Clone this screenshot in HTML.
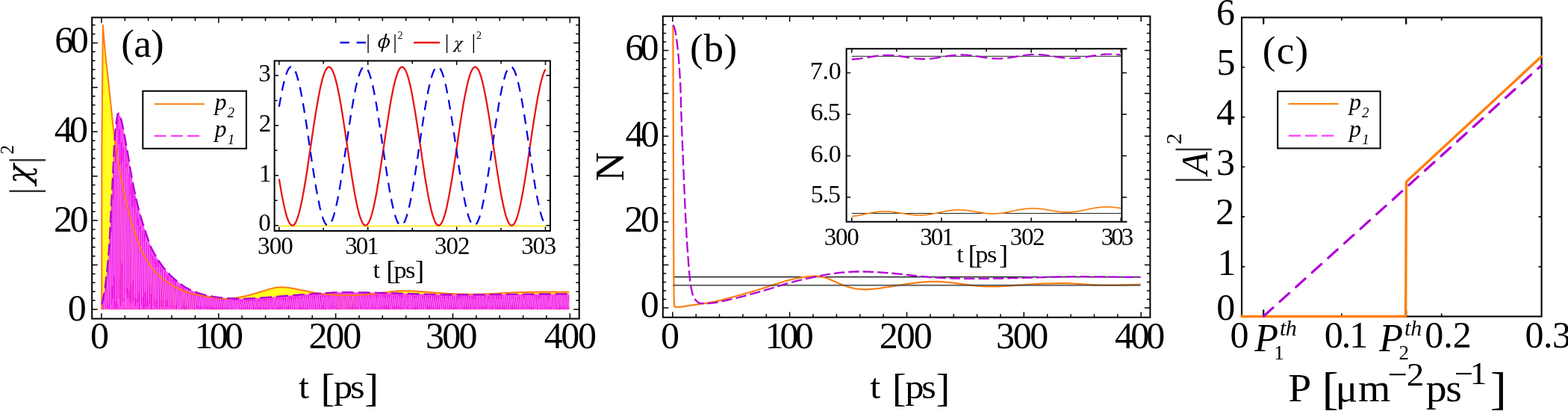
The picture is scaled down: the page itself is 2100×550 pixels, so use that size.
<!DOCTYPE html>
<html lang="en">
<head>
<meta charset="utf-8">
<title>Figure</title>
<style>
html,body{margin:0;padding:0;background:#fff;}
body{width:2100px;height:550px;overflow:hidden;}
svg{display:block;}
svg text{font-family:"Liberation Serif","DejaVu Serif",serif;fill:#000;white-space:pre;}
svg .m{font-family:"DejaVu Math TeX Gyre","Liberation Serif",serif;}
</style>
</head>
<body>
<svg width="2100" height="550" viewBox="0 0 2100 550">
<rect x="0" y="0" width="2100" height="550" fill="#fff"/>
<g id="panel-a">
<path d="M136.2,414.2L136.4,200L137.8,33.6L139.3,52.1L140.8,69L142.3,83.7L143.8,97.1L145.3,109.9L146.7,123.4L148.2,137.8L149.7,152.4L151.2,166.2L152.7,178.2L154.2,189.1L155.7,199.3L157.2,208.9L158.7,218L160.2,226.7L161.7,235L163.1,243L164.6,250.6L166.1,257.8L167.6,264.5L169.1,270.8L170.6,276.8L172.1,282.4L173.6,287.7L175.1,292.9L176.6,298L178.1,302.8L179.5,307.5L181,312.1L182.5,316.6L184,321.1L185.5,325.7L187,329.5L188.5,332.9L190,336L191.5,338.9L193,341.6L194.4,344.2L195.9,346.7L197.4,349.1L198.9,351.4L200.4,353.7L201.9,355.8L203.4,357.9L204.9,359.8L206.4,361.6L207.9,363.3L209.4,364.9L210.8,366.4L212.3,367.9L213.8,369.2L215.3,370.5L216.8,371.8L218.3,373L219.8,374.2L221.3,375.4L222.8,376.5L224.3,377.6L225.7,378.7L227.2,379.7L228.7,380.6L230.2,381.5L231.7,382.4L233.2,383.2L234.7,384.1L236.2,384.9L237.7,385.6L239.2,386.4L240.7,387L242.1,387.7L243.6,388.3L245.1,388.9L246.6,389.5L248.1,390L249.6,390.5L251.1,391L252.6,391.5L254.1,392L255.6,392.4L257,392.8L258.5,393.2L260,393.6L261.5,394L263,394.3L264.5,394.7L266,395L267.5,395.3L269,395.6L270.5,395.8L272,396.1L273.4,396.3L274.9,396.5L276.4,396.7L277.9,396.9L279.4,397.1L280.9,397.3L282.4,397.5L283.9,397.7L285.4,397.9L286.9,398.2L288.3,398.4L289.8,398.7L291.3,399L292.8,399.2L294.3,399.4L295.8,399.5L297.3,399.7L298.8,399.7L300.3,399.7L301.8,399.7L303.3,399.7L304.7,399.7L306.2,399.6L307.7,399.5L309.2,399.4L310.7,399.3L312.2,399.1L313.7,399L315.2,398.7L316.7,398.5L318.2,398.3L319.7,398L321.1,397.7L322.6,397.4L324.1,397.1L325.6,396.8L327.1,396.5L328.6,396.2L330.1,395.8L331.6,395.5L333.1,395.1L334.6,394.7L336,394.3L337.5,393.9L339,393.5L340.5,393L342,392.6L343.5,392.2L345,391.7L346.5,391.3L348,390.8L349.5,390.4L351,389.9L352.4,389.5L353.9,389L355.4,388.5L356.9,388.1L358.4,387.6L359.9,387.2L361.4,386.8L362.9,386.4L364.4,386L365.9,385.6L367.3,385.3L368.8,385L370.3,384.8L371.8,384.6L373.3,384.5L374.8,384.4L376.3,384.4L377.8,384.4L379.3,384.4L380.8,384.5L382.3,384.6L383.7,384.7L385.2,384.9L386.7,385L388.2,385.2L389.7,385.5L391.2,385.7L392.7,386L394.2,386.3L395.7,386.6L397.2,386.9L398.6,387.2L400.1,387.5L401.6,387.8L403.1,388.1L404.6,388.4L406.1,388.7L407.6,389L409.1,389.3L410.6,389.6L412.1,389.9L413.6,390.2L415,390.5L416.5,390.8L418,391L419.5,391.3L421,391.6L422.5,391.9L424,392.1L425.5,392.3L427,392.6L428.5,392.8L429.9,393L431.4,393.2L432.9,393.3L434.4,393.5L435.9,393.7L437.4,393.8L438.9,393.9L440.4,394.1L441.9,394.2L443.4,394.3L444.9,394.4L446.3,394.5L447.8,394.6L449.3,394.7L450.8,394.8L452.3,394.9L453.8,395L455.3,395L456.8,395.1L458.3,395.2L459.8,395.2L461.3,395.3L462.7,395.3L464.2,395.3L465.7,395.3L467.2,395.3L468.7,395.3L470.2,395.3L471.7,395.2L473.2,395.2L474.7,395.1L476.2,395.1L477.6,395L479.1,394.9L480.6,394.8L482.1,394.8L483.6,394.7L485.1,394.6L486.6,394.5L488.1,394.4L489.6,394.3L491.1,394.2L492.6,394.1L494,393.9L495.5,393.8L497,393.7L498.5,393.5L500,393.4L501.5,393.2L503,393.1L504.5,392.9L506,392.7L507.5,392.5L508.9,392.4L510.4,392.2L511.9,392L513.4,391.8L514.9,391.6L516.4,391.4L517.9,391.2L519.4,391L520.9,390.8L522.4,390.5L523.9,390.3L525.3,390.1L526.8,389.9L528.3,389.8L529.8,389.6L531.3,389.5L532.8,389.4L534.3,389.3L535.8,389.2L537.3,389.2L538.8,389.2L540.2,389.2L541.7,389.2L543.2,389.2L544.7,389.2L546.2,389.2L547.7,389.3L549.2,389.3L550.7,389.4L552.2,389.4L553.7,389.5L555.2,389.6L556.6,389.7L558.1,389.8L559.6,389.9L561.1,390L562.6,390.1L564.1,390.2L565.6,390.3L567.1,390.4L568.6,390.5L570.1,390.6L571.5,390.7L573,390.8L574.5,390.9L576,391L577.5,391.2L579,391.3L580.5,391.4L582,391.5L583.5,391.7L585,391.8L586.5,391.9L587.9,392L589.4,392.1L590.9,392.2L592.4,392.3L593.9,392.4L595.4,392.5L596.9,392.6L598.4,392.7L599.9,392.8L601.4,392.8L602.9,392.9L604.3,393L605.8,393.1L607.3,393.1L608.8,393.2L610.3,393.3L611.8,393.3L613.3,393.4L614.8,393.4L616.3,393.5L617.8,393.6L619.2,393.6L620.7,393.6L622.2,393.7L623.7,393.7L625.2,393.7L626.7,393.8L628.2,393.8L629.7,393.8L631.2,393.8L632.7,393.8L634.2,393.8L635.6,393.8L637.1,393.7L638.6,393.7L640.1,393.7L641.6,393.6L643.1,393.6L644.6,393.6L646.1,393.5L647.6,393.4L649.1,393.4L650.5,393.3L652,393.3L653.5,393.2L655,393.1L656.5,393.1L658,393L659.5,393L661,392.9L662.5,392.8L664,392.7L665.5,392.7L666.9,392.6L668.4,392.5L669.9,392.4L671.4,392.3L672.9,392.3L674.4,392.2L675.9,392.1L677.4,392L678.9,391.9L680.4,391.8L681.8,391.7L683.3,391.7L684.8,391.6L686.3,391.5L687.8,391.4L689.3,391.4L690.8,391.3L692.3,391.3L693.8,391.2L695.3,391.2L696.8,391.1L698.2,391.1L699.7,391L701.2,391L702.7,391L704.2,390.9L705.7,390.9L707.2,390.9L708.7,390.8L710.2,390.8L711.7,390.8L713.2,390.8L714.6,390.7L716.1,390.7L717.6,390.7L719.1,390.7L720.6,390.7L722.1,390.6L723.6,390.6L725.1,390.6L726.6,390.6L728.1,390.6L729.5,390.6L731,390.6L732.5,390.6L734,390.6L735.5,390.6L737,390.6L738.5,390.6L740,390.6L741.5,390.6L743,390.6L744.5,390.6L745.9,390.7L747.4,390.7L748.9,390.7L750.4,390.7L751.9,390.7L753.4,390.7L754.9,390.8L756.4,390.8L757.9,390.8L759.4,390.8L760.8,390.8L762.3,390.8L762.3,414.2L136.2,414.2Z" fill="#ffff20"/>
<path d="M136.4,414.2L136.4,407.3L137.7,401.8L138.9,395.3L140.2,387.7L141.4,378.9L142.7,368.7L143.9,356.5L145.2,343L146.4,326.3L147.7,301.4L148.9,276.5L150.2,252.5L151.5,226.7L152.7,200.9L154,181.9L155.2,167.7L156.5,158.5L157.7,152.3L159,151.9L160.2,154.1L161.5,157.1L162.7,161.4L164,167.3L165.3,173.6L166.5,179.9L167.8,186.7L169,193.7L170.3,200.6L171.5,207.7L172.8,215.1L174,223.1L175.3,230.5L176.5,237.5L177.8,244.1L179,250.5L180.3,256.5L181.6,262.3L182.8,267.9L184.1,273.2L185.3,278.3L186.6,283.1L187.8,287.6L189.1,291.8L190.3,295.9L191.6,299.9L192.8,303.8L194.1,307.8L195.4,311.6L196.6,315.4L197.9,319.1L199.1,322.6L200.4,326.1L201.6,329.3L202.9,332.1L204.1,334.6L205.4,337L206.6,339.3L207.9,341.4L209.2,343.5L210.4,345.6L211.7,347.6L212.9,349.5L214.2,351.4L215.4,353.2L216.7,355L217.9,356.7L219.2,358.3L220.4,359.8L221.7,361.3L223,362.8L224.2,364.2L225.5,365.6L226.7,366.9L228,368.1L229.2,369.4L230.5,370.6L231.7,371.7L233,372.8L234.2,373.9L235.5,375L236.8,376L238,377L239.3,378L240.5,379L241.8,379.9L243,380.8L244.3,381.7L245.5,382.6L246.8,383.4L248,384.2L249.3,384.9L250.5,385.6L251.8,386.2L253.1,386.9L254.3,387.5L255.6,388.1L256.8,388.7L258.1,389.2L259.3,389.8L260.6,390.3L261.8,390.8L263.1,391.2L264.3,391.7L265.6,392.1L266.9,392.5L268.1,392.9L269.4,393.3L270.6,393.7L271.9,394L273.1,394.3L274.4,394.7L275.6,395L276.9,395.3L278.1,395.5L279.4,395.8L280.7,396L281.9,396.3L283.2,396.5L284.4,396.7L285.7,397L286.9,397.2L288.2,397.4L289.4,397.6L290.7,397.7L291.9,397.9L293.2,398.1L294.5,398.2L295.7,398.3L297,398.5L298.2,398.6L299.5,398.7L300.7,398.8L302,399L303.2,399L304.5,399.1L305.7,399.2L307,399.3L308.3,399.3L309.5,399.4L310.8,399.5L312,399.5L313.3,399.6L314.5,399.7L315.8,399.7L317,399.7L318.3,399.8L319.5,399.8L320.8,399.8L322,399.8L323.3,399.7L324.6,399.7L325.8,399.7L327.1,399.7L328.3,399.6L329.6,399.6L330.8,399.5L332.1,399.5L333.3,399.4L334.6,399.4L335.8,399.3L337.1,399.3L338.4,399.2L339.6,399.2L340.9,399.1L342.1,399.1L343.4,399L344.6,398.9L345.9,398.8L347.1,398.8L348.4,398.7L349.6,398.6L350.9,398.5L352.2,398.4L353.4,398.3L354.7,398.2L355.9,398.1L357.2,398L358.4,397.9L359.7,397.8L360.9,397.7L362.2,397.6L363.4,397.5L364.7,397.4L366,397.3L367.2,397.2L368.5,397.1L369.7,397L371,396.9L372.2,396.8L373.5,396.7L374.7,396.6L376,396.5L377.2,396.4L378.5,396.3L379.8,396.2L381,396.1L382.3,396L383.5,395.9L384.8,395.8L386,395.7L387.3,395.6L388.5,395.5L389.8,395.4L391,395.3L392.3,395.2L393.5,395.1L394.8,395L396.1,394.9L397.3,394.8L398.6,394.7L399.8,394.6L401.1,394.5L402.3,394.4L403.6,394.3L404.8,394.2L406.1,394.1L407.3,394.1L408.6,394L409.9,393.9L411.1,393.8L412.4,393.7L413.6,393.6L414.9,393.6L416.1,393.5L417.4,393.4L418.6,393.3L419.9,393.2L421.1,393.2L422.4,393.1L423.7,393L424.9,392.9L426.2,392.9L427.4,392.8L428.7,392.7L429.9,392.6L431.2,392.5L432.4,392.5L433.7,392.4L434.9,392.3L436.2,392.2L437.5,392.1L438.7,392L440,391.9L441.2,391.8L442.5,391.8L443.7,391.7L445,391.6L446.2,391.5L447.5,391.5L448.7,391.4L450,391.4L451.3,391.3L452.5,391.3L453.8,391.2L455,391.2L456.3,391.2L457.5,391.2L458.8,391.2L460,391.2L461.3,391.2L462.5,391.2L463.8,391.2L465,391.2L466.3,391.2L467.6,391.2L468.8,391.2L470.1,391.2L471.3,391.3L472.6,391.3L473.8,391.3L475.1,391.3L476.3,391.3L477.6,391.3L478.8,391.3L480.1,391.4L481.4,391.4L482.6,391.4L483.9,391.4L485.1,391.4L486.4,391.4L487.6,391.5L488.9,391.5L490.1,391.5L491.4,391.5L492.6,391.5L493.9,391.6L495.2,391.6L496.4,391.6L497.7,391.6L498.9,391.7L500.2,391.7L501.4,391.7L502.7,391.7L503.9,391.8L505.2,391.8L506.4,391.8L507.7,391.9L509,391.9L510.2,391.9L511.5,392L512.7,392L514,392L515.2,392.1L516.5,392.1L517.7,392.1L519,392.2L520.2,392.2L521.5,392.2L522.8,392.3L524,392.3L525.3,392.3L526.5,392.4L527.8,392.4L529,392.4L530.3,392.5L531.5,392.5L532.8,392.5L534,392.6L535.3,392.6L536.5,392.7L537.8,392.7L539.1,392.7L540.3,392.8L541.6,392.8L542.8,392.8L544.1,392.9L545.3,392.9L546.6,393L547.8,393L549.1,393L550.3,393.1L551.6,393.1L552.9,393.2L554.1,393.2L555.4,393.2L556.6,393.3L557.9,393.3L559.1,393.3L560.4,393.4L561.6,393.4L562.9,393.5L564.1,393.5L565.4,393.5L566.7,393.6L567.9,393.6L569.2,393.6L570.4,393.7L571.7,393.7L572.9,393.7L574.2,393.8L575.4,393.8L576.7,393.9L577.9,393.9L579.2,393.9L580.5,394L581.7,394L583,394L584.2,394.1L585.5,394.1L586.7,394.1L588,394.2L589.2,394.2L590.5,394.2L591.7,394.2L593,394.3L594.3,394.3L595.5,394.3L596.8,394.3L598,394.3L599.3,394.3L600.5,394.3L601.8,394.3L603,394.3L604.3,394.4L605.5,394.4L606.8,394.4L608,394.4L609.3,394.4L610.6,394.4L611.8,394.4L613.1,394.4L614.3,394.4L615.6,394.4L616.8,394.4L618.1,394.4L619.3,394.4L620.6,394.4L621.8,394.4L623.1,394.4L624.4,394.4L625.6,394.4L626.9,394.4L628.1,394.4L629.4,394.4L630.6,394.4L631.9,394.4L633.1,394.4L634.4,394.4L635.6,394.4L636.9,394.4L638.2,394.4L639.4,394.4L640.7,394.4L641.9,394.4L643.2,394.4L644.4,394.3L645.7,394.3L646.9,394.3L648.2,394.3L649.4,394.3L650.7,394.2L652,394.2L653.2,394.2L654.5,394.2L655.7,394.2L657,394.2L658.2,394.2L659.5,394.1L660.7,394.1L662,394.1L663.2,394.1L664.5,394.1L665.7,394.1L667,394.1L668.3,394.1L669.5,394L670.8,394L672,394L673.3,394L674.5,394L675.8,394L677,394L678.3,394L679.5,394L680.8,394L682.1,393.9L683.3,393.9L684.6,393.9L685.8,393.9L687.1,393.9L688.3,393.9L689.6,393.9L690.8,393.9L692.1,393.9L693.3,393.8L694.6,393.8L695.9,393.8L697.1,393.8L698.4,393.8L699.6,393.8L700.9,393.8L702.1,393.8L703.4,393.7L704.6,393.7L705.9,393.7L707.1,393.7L708.4,393.7L709.7,393.7L710.9,393.7L712.2,393.6L713.4,393.6L714.7,393.6L715.9,393.6L717.2,393.6L718.4,393.6L719.7,393.6L720.9,393.6L722.2,393.5L723.5,393.5L724.7,393.5L726,393.5L727.2,393.5L728.5,393.5L729.7,393.5L731,393.5L732.2,393.5L733.5,393.5L734.7,393.5L736,393.5L737.2,393.4L738.5,393.4L739.8,393.4L741,393.4L742.3,393.4L743.5,393.4L744.8,393.4L746,393.4L747.3,393.4L748.5,393.4L749.8,393.4L751,393.4L752.3,393.4L753.6,393.4L754.8,393.4L756.1,393.4L757.3,393.4L758.6,393.4L759.8,393.4L761.1,393.4L762.3,393.4L762.3,414.2Z" fill="#ff3cf8" fill-opacity="0.95"/>
<path d="M137,406.2L138.2,413.2L139.6,393.1L140.8,411.8L142.3,373.3L143.6,411.3L145,350.7L146.4,412.7L147.7,312.1L148.9,409.1L150,270.3L151.1,399.7L152.6,228.4L153.8,412.6L155,197.6L156.4,412.7L157.6,160.1L158.9,399.7L160.1,172.9L161.4,409.1L162.8,189.9L164.1,402.6L165.3,198.1L166.5,402.8L167.7,189.9L168.9,393.9L170,218.2L171.2,398.7L172.7,231.7L174.2,403.4L175.4,246.9L176.4,406.5L177.6,248.4L179,403.3L180.4,261.8L181.5,409.5L182.8,285.2L183.9,404.1L185.2,292.2L186.5,413.8L188.1,302.7L189.3,408.1L190.7,308.6L192.2,413L193.7,312.3L194.8,411.7L196.1,324.4L197.6,410.3L198.8,326.7L200.3,407L201.6,333L203.1,413.9L204.4,343.1L205.4,409.2L206.5,346.9L207.6,411.4L208.8,348.5L210.3,412.4L211.7,349.4L213.1,413.4L214.5,357.2L215.9,410L217.3,360.7L218.8,410.7L220.3,363.1L221.8,410.5L222.9,369.5L224.1,410.7L225.2,369.1L226.5,411L228,370.5L229,410.6L230.2,375.2L231.4,411.5L232.6,373.9L234,412.6L235.3,376.8L236.6,413.5L237.9,380.4L239.3,412L240.8,382.1L242.3,414L243.4,383.3L244.9,412.3L246.1,384.4L247.2,413.9L248.4,387.1L249.8,412.8L251.3,388.5L252.5,413.5L253.6,391.1L255.1,411.7L256.2,391.7L257.4,413L258.9,392.6L260.2,414L261.5,393.7L263,412.7L264,392.8L265.3,412.4L266.6,393.9L268.1,413.6L269.6,396.2L270.7,413L271.8,396.4L273.1,412.8L274.5,397.2L275.7,412.6L276.9,397.8L278.5,413.4L280,397L281.2,412.8L282.7,398.3L284,414.1L285,398.6L286.4,413.2L287.7,398.6L289.2,414.2L290.8,399.9L292.2,413.1L293.6,400.4L295,414L296.4,401L297.9,414.2L299.4,400.7L300.6,413.2L301.7,401.6L302.9,413.5L304.1,401.2L305.3,413.2L306.8,401.4L307.8,413.4L309.1,401.7L310.6,412.9L311.7,401.3L312.8,413.3L314,400.9L315.1,413.7L316.5,401L317.7,412.9L318.8,401.8L320.3,413.1L321.7,401.7L323.1,413.4L324.6,400.7L325.7,413.3L327.2,402.2L328.5,413.7L329.7,400.7L331.2,413L332.6,400.7L334.1,413.8L335.2,401.5L336.6,412.9L337.9,401.1L339.2,414L340.4,400.8L341.5,413.6L342.8,401L344,413.8L345.5,401.6L346.8,413.9L348.1,399.8L349.4,414.1L350.7,400.2L352.3,413.4L353.7,399.7L355,413.9L356.2,400.4L357.5,413.8L358.9,400.4L360.4,412.8L361.9,400.3L363.1,412.9L364.3,399.4L365.6,413.3L366.8,399.3L368,412.7L369.3,398.7L370.7,414L371.8,398.9L373,413.7L374.2,398.9L375.3,412.6L376.5,399L377.9,413.4L379.2,398.3L380.8,413.4L382.1,398.8L383.4,413.6L384.8,398.6L386.2,413.5L387.6,396.9L388.9,413L390.3,396.9L391.5,412.6L392.9,398.2L394.3,414L395.5,396.6L396.7,413.2L397.7,395.8L399,413L400,397.2L401.2,413.6L402.2,396.8L403.4,413.6L404.7,396.4L406,413.1L407.4,396.5L408.8,413.7L409.9,395.6L411.4,413.6L412.8,395.7L414.1,412.5L415.5,396.5L416.8,412.6L418,395.6L419.3,413L420.9,396L422.3,413.8L423.4,395L424.6,412.9L426.1,395.1L427.6,412.2L429,396.1L430.4,412.3L431.5,393.6L433,413.4L434.2,395.8L435.3,413.8L436.5,393.5L437.6,412.3L439.1,393L440.2,413.1L441.6,393.7L442.9,413.1L444.4,393.2L445.7,412.1L447.3,392.6L448.5,412L449.8,394.7L451,414L452.4,393.5L453.6,412.9L455.1,393.1L456.2,412.9L457.4,393.4L458.6,413L459.7,394.3L460.9,413.1L462.4,393.6L463.6,413.1L464.8,393.9L466.2,413.2L467.6,394.7L468.9,412.7L470.4,394.4L471.8,413.9L473,394L474.1,413.3L475.4,394L476.8,412.5L478.2,394.1L479.4,413.2L480.8,393.2L482.3,412.2L483.5,393.2L484.7,412.8L485.9,393.6L487.3,412.5L488.8,392.6L490.1,413.1L491.6,394.7L493,412.5L494.3,393.4L495.5,412.3L496.7,393.6L498.2,413.3L499.3,392.8L500.4,412.4L501.6,394.2L503,413.4L504.2,393.8L505.4,413.3L506.6,393.8L507.7,413.9L508.9,393.6L510.4,412.7L511.7,393.4L512.9,412.5L514,395.4L515.2,413.2L516.3,393.7L517.3,413.1L518.8,393.8L520.2,414.2L521.7,394.5L522.8,412.9L524.1,395.6L525.6,413.2L526.8,395.8L528.3,413.6L529.9,394.4L530.9,412.3L532.2,395.1L533.5,412.3L534.8,393.8L536,413.7L537.2,394.5L538.4,412.8L539.4,395.4L540.9,413.1L542.4,395.6L543.5,412.2L545,394.5L546.3,413.2L547.3,395.5L548.4,413.5L549.7,396.1L550.8,412.7L552,394.6L553.2,412.8L554.8,396.3L556,414.2L557.2,396L558.8,413.3L560.3,396.5L561.7,412.6L562.8,396.7L564.3,413.6L565.6,395L567,413.3L568.4,395.9L569.8,412.3L571.3,395.2L572.7,414L574,396L575.3,414.1L576.4,395.7L577.6,412.3L579.1,395.2L580.3,413.2L581.7,395.8L583.1,413.1L584.3,396.3L585.7,414L587.1,395.3L588.6,413L589.9,397L591.3,412.7L592.8,396.5L594,412.7L595.2,396.8L596.4,413.6L597.8,397.3L599,412.4L600.5,395.7L601.7,414.2L603.1,397.2L604.3,412.4L605.6,396.5L607.1,413.3L608.4,397.5L609.7,413.2L611,396.3L612.2,413.1L613.3,396.5L614.6,412.3L615.9,395.8L617.1,412.6L618.2,397L619.5,413.7L620.7,396.7L621.9,413.6L623.4,397L624.8,413.8L626.4,396.6L627.6,412.4L629.1,396.1L630.5,413.2L632,396.7L633.1,413L634.5,395.8L635.9,412.6L637.2,396.3L638.6,413.2L640.1,397.1L641.6,413.7L642.8,396.9L644,412.9L645.4,397.1L646.4,413.3L647.9,396.9L649.2,412.6L650.5,395.9L651.9,413.4L653.4,396.1L654.9,413.1L656.2,396.9L657.4,414.1L658.9,395.5L660.2,413.7L661.7,397.3L663,413.5L664.4,395.2L665.9,413.1L666.9,396.6L668.1,413.5L669.3,397.2L670.3,413L671.6,395.5L673.1,413.7L674.3,396.8L675.4,413.5L676.9,396.8L678.2,413.4L679.5,396.4L680.9,413.5L682.3,396.6L683.5,412.3L684.6,397L685.9,414.1L687.4,396.7L688.9,413.5L690,396.2L691.4,413.4L692.7,397L694.2,413.7L695.4,396.7L696.6,413.9L697.6,397.1L699.1,412.9L700.2,395.1L701.4,412.3L702.6,396.7L704.1,412.3L705.2,396.1L706.4,412.4L707.8,396.6L708.9,413.1L710.3,395.1L711.5,413.4L712.6,394.9L714,413.9L715.2,394.8L716.3,412.2L717.9,395.1L719.3,414.1L720.6,396.3L721.8,412.5L722.9,396.3L724.3,414L725.5,395.6L726.8,413.8L728.2,396L729.6,412.9L730.7,395L731.8,412.8L733.2,395.8L734.3,413.5L735.6,395.3L736.6,413.6L737.8,396.8L738.9,412.6L740.4,396.3L741.8,413.7L743,395.3L744.3,412.4L745.6,394.6L746.7,413.8L748,396.4L749.4,414.2L750.5,395.9L751.7,413.3L752.9,394.7L754,413.7L755.4,395.6L756.6,413.2L758,395.2L759.3,413.5L760.8,396L762.1,413.5" fill="none" stroke="#e000dc" stroke-width="0.75" stroke-linejoin="bevel"/>
<path d="M137.3,413.7L138.5,401.8L140,413.6L141.1,391.1L142.7,411.2L144,368.3L145.3,406.4L146.7,330.9L148.1,412L149.2,310.9L150.4,382.7L151.5,268.7L152.9,369.1L154.2,217.5L155.3,403.4L156.8,173.5L158,407.1L159.2,192.8L160.4,372.8L161.8,219L163.1,352L164.5,216L165.7,399.2L166.9,191.7L168,410.9L169.3,223.5L170.4,384.5L171.5,218.6L173,388.9L174.6,261.1L175.7,381.6L176.8,276.5L177.9,375L179.3,277.8L180.8,398.2L181.8,285.2L183.2,399.7L184.2,301.1L185.5,392L186.9,309.9L188.4,412.7L189.6,303.5L191.1,397.3L192.6,324.3L194.1,390.7L195.1,318.9L196.4,397.6L197.9,322.7L199.2,403.4L200.7,331.9L202,393.5L203.4,347.6L204.7,411.8L205.8,352.4L206.9,398L208,358.2L209.1,401.5L210.7,356.6L212,413.9L213.5,357.8L214.8,400.5L216.2,364L217.7,402.3L219.2,360.9L220.7,409.5L222.1,370.2L223.2,401.9L224.5,375.3L225.5,410.4L226.9,370.9L228.3,408.7L229.4,376.5L230.5,409.9L231.8,377.9L232.9,409.5L234.4,382L235.6,408.1L237,378.9L238.3,414.1L239.6,380.3L241.1,413.4L242.7,383.5L243.8,409.5L245.2,390.6L246.5,408.8L247.6,387.1L248.8,409.7L250.1,387.8L251.6,411L252.9,391.4L253.9,414L255.4,393.1L256.5,412.7L257.8,395.4L259.3,413.3L260.6,395.2L261.9,413.5L263.3,395.6L264.4,409.2L265.7,395L267,410.4L268.5,397.2L269.9,410.1L271,398L272.2,413.4L273.4,397.8L274.8,410.2L276.1,398.3L277.3,410L278.8,397.3L280.3,411.1L281.6,398.4L283.1,410.2L284.3,398.6L285.4,410.7L286.7,401.1L288.1,411.6L289.6,399.3L291.1,412.4L292.5,401L294,411L295.4,401.2L296.8,411.9L298.2,403L299.8,411.4L301,401.8L302.1,412.4L303.3,401L304.4,410.7L305.6,401.7L307.1,413.3L308.2,401.3L309.5,411.9L310.9,401.7L312.1,412.9L313.2,402.5L314.3,413.9L315.4,402L316.9,413.6L318,402.1L319.2,413.8L320.6,403.6L322.1,412.6L323.4,403.3L324.9,411.7L326,401.8L327.6,411.3L328.9,402.8L330.1,411.1L331.6,403.4L332.9,411.9L334.5,402.2L335.6,414.2L336.9,403.3L338.2,412.6L339.6,402.3L340.8,411.5L341.8,402.8L343.1,413.1L344.4,402.1L345.9,411.5L347.2,402.8L348.4,411.1L349.8,400.5L351.1,412.4L352.6,402.5L354.1,411.3L355.4,401.6L356.5,412.8L357.9,401.8L359.3,410.6L360.7,400.2L362.3,413.3L363.4,401.8L364.7,412L366,399.5L367.2,412.3L368.4,398.6L369.7,413.1L371,401L372.2,410.8L373.3,400.4L374.5,410.8L375.6,399.4L376.8,410.5L378.2,400.9L379.6,413.2L381.1,401.3L382.5,413L383.8,398L385.1,410L386.6,400.9L387.9,410.7L389.3,400.6L390.6,413L391.8,399.4L393.3,412.4L394.6,400.3L395.8,413.4L397,397.7L398.1,412.9L399.3,399.9L400.4,412.2L401.5,396.1L402.6,411.3L403.8,399.9L405,411.2L406.4,397.5L407.8,412.5L409.2,396.9L410.3,411.9L411.8,398.3L413.2,411.9L414.5,395.6L415.9,413L417.2,396.5L418.3,412.5L419.7,397.5L421.2,413.5L422.7,396L423.8,412L424.9,396L426.4,411.5L427.9,397.3L429.3,411.7L430.8,397.6L431.9,409L433.4,396.4L434.5,413.3L435.6,397.6L436.9,412.8L437.9,393.1L439.4,412.8L440.5,397.3L442,411.6L443.3,394.3L444.7,409.1L446.1,394.5L447.6,410.1L448.9,394.6L450.2,412.1L451.4,396.6L452.8,412.3L454,395.4L455.4,412.4L456.5,394.8L457.7,412.7L459,395.3L460.1,414L461.2,393.8L462.7,410.6L463.9,394.1L465.1,413L466.6,395.9L467.9,410.9L469.3,394.2L470.8,409.1L472.2,394.6L473.4,411.9L474.4,394.4L475.7,410.2L477.1,397.2L478.6,410.4L479.7,393.4L481.1,413.5L482.6,392.6L483.8,409.6L485,396.2L486.3,412.6L487.6,396.4L489.1,412L490.5,395.6L492,410.7L493.4,395.1L494.7,412.5L495.9,397.1L497.1,410.7L498.5,394.8L499.7,410.5L500.8,395.8L501.9,411.7L503.3,397.5L504.6,413.1L505.7,397.2L506.9,413L508,394.5L509.3,410.4L510.7,395.1L512,410.5L513.3,397.1L514.3,409.5L515.5,398.3L516.6,410.2L517.7,395.5L519.2,409.1L520.6,397.5L522.1,412.3L523.2,395.6L524.4,412.7L525.9,397.5L527.2,409.8L528.7,397.5L530.2,410.2L531.3,394.5L532.5,409.7L533.9,395.8L535.1,410.2L536.3,397.6L537.6,411.9L538.7,398.4L539.8,411.9L541.2,395.1L542.8,413.7L543.8,395.4L545.3,409.8L546.6,397.7L547.7,413.6L548.8,394.4L550.1,413.4L551.2,396L552.4,411.4L553.6,398.7L555.1,411L556.4,398.4L557.6,410.3L559.1,396.7L560.6,411.6L562.1,396.8L563.2,412.5L564.7,395.4L565.9,412.9L567.4,399.2L568.8,413.3L570.2,396.3L571.6,410.2L573.1,397.9L574.3,410.2L575.6,398.6L576.7,410.5L578,396.5L579.5,411.2L580.6,399.2L582,412.2L583.5,399.6L584.6,412.9L586.1,399.3L587.5,410.7L589,398.7L590.2,413.8L591.7,395.5L593.1,413L594.4,399.1L595.5,411.1L596.8,396.8L598.1,412.7L599.3,398.3L600.8,412.9L602,396.2L603.4,409.9L604.6,395.8L605.9,412L607.4,398.3L608.7,411.2L610.1,395.6L611.3,411L612.6,399.8L613.7,414.2L615,399.2L616.3,412.1L617.5,397.6L618.6,413.8L619.8,398.1L621,410.4L622.2,398.3L623.7,411.2L625.2,398.7L626.7,409.6L628,397.5L629.5,410.7L630.8,397.5L632.4,412.3L633.5,399.9L634.9,410L636.2,399.3L637.6,411.2L639,396.5L640.4,413.8L641.9,396L643.1,411.6L644.4,398.4L645.7,410.6L646.8,395.9L648.3,410.4L649.6,399L650.9,409.6L652.2,395.9L653.8,413.7L655.2,399.2L656.6,414.1L657.7,395.9L659.3,410.2L660.5,398.4L662,414.1L663.3,396.2L664.7,409.5L666.2,399.7L667.3,411.9L668.5,397.4L669.6,410.1L670.7,399.1L671.9,412L673.4,396.3L674.6,409.7L675.7,395.7L677.2,410.8L678.5,395L679.8,413.2L681.2,395.5L682.7,412.9L683.8,397.1L685,409.6L686.2,398.8L687.7,409.5L689.2,396.7L690.4,411.9L691.8,395.4L693,411.4L694.5,399.3L695.7,414.2L696.9,395.7L698,411.9L699.5,395.8L700.6,410.3L701.8,399.1L703,411L704.5,396.6L705.6,411.7L706.8,395.7L708.2,409.8L709.3,394.9L710.6,411.8L711.9,395.9L713,411.1L714.3,395.7L715.5,413.4L716.7,397.1L718.2,413.9L719.7,397.7L721,411.8L722.2,399.4L723.2,412.9L724.7,396.8L725.8,413.9L727.1,395.2L728.5,413.9L729.9,395L731.1,411.1L732.2,396.5L733.6,413.3L734.7,399.3L735.9,411.3L737,395L738.1,411.2L739.3,395.8L740.8,413.7L742.2,396.5L743.4,412.4L744.7,395L746,411.1L747.1,395.7L748.3,412.2L749.7,395.4L750.9,410L752,395.3L753.3,412.1L754.3,396L755.7,410.2L757,395.3L758.4,413.5L759.7,394.6L761.1,411.7L762.5,394.7" fill="none" stroke="#ff8af8" stroke-width="0.55" stroke-linejoin="bevel"/>
<path d="M160.7,227.2L160.7,413.2M164.7,249.1L164.7,413.2M176,295L176,413.2M179.6,306.8L179.6,413.2M199.4,352.3L199.4,413.2M207.1,362.8L207.1,413.2M215.1,370.8L215.1,413.2M219.4,374.5L219.4,413.2M227.1,380.2L227.1,413.2M230.8,382.5L230.8,413.2M234.6,384.7L234.6,413.2M242.9,388.8L242.9,413.2M246.7,390.3L246.7,413.2M250.4,391.6L250.4,413.2M254.2,392.8L254.2,413.2M258,393.9L258,413.2M450.4,395.8L450.4,413.2M454.2,396L454.2,413.2M458,396.1L458,413.2M461.5,396.2L461.5,413.2M465.4,396.3L465.4,413.2M469.5,396.3L469.5,413.2M473.6,396.2L473.6,413.2M477.4,396L477.4,413.2" stroke="#ff5aa8" stroke-width="0.8" fill="none" />
<path d="M136.2,414.2L136.4,200L137.8,33.6L139.3,52.1L140.8,69L142.3,83.7L143.8,97.1L145.3,109.9L146.7,123.4L148.2,137.8L149.7,152.4L151.2,166.2L152.7,178.2L154.2,189.1L155.7,199.3L157.2,208.9L158.7,218L160.2,226.7L161.7,235L163.1,243L164.6,250.6L166.1,257.8L167.6,264.5L169.1,270.8L170.6,276.8L172.1,282.4L173.6,287.7L175.1,292.9L176.6,298L178.1,302.8L179.5,307.5L181,312.1L182.5,316.6L184,321.1L185.5,325.7L187,329.5L188.5,332.9L190,336L191.5,338.9L193,341.6L194.4,344.2L195.9,346.7L197.4,349.1L198.9,351.4L200.4,353.7L201.9,355.8L203.4,357.9L204.9,359.8L206.4,361.6L207.9,363.3L209.4,364.9L210.8,366.4L212.3,367.9L213.8,369.2L215.3,370.5L216.8,371.8L218.3,373L219.8,374.2L221.3,375.4L222.8,376.5L224.3,377.6L225.7,378.7L227.2,379.7L228.7,380.6L230.2,381.5L231.7,382.4L233.2,383.2L234.7,384.1L236.2,384.9L237.7,385.6L239.2,386.4L240.7,387L242.1,387.7L243.6,388.3L245.1,388.9L246.6,389.5L248.1,390L249.6,390.5L251.1,391L252.6,391.5L254.1,392L255.6,392.4L257,392.8L258.5,393.2L260,393.6L261.5,394L263,394.3L264.5,394.7L266,395L267.5,395.3L269,395.6L270.5,395.8L272,396.1L273.4,396.3L274.9,396.5L276.4,396.7L277.9,396.9L279.4,397.1L280.9,397.3L282.4,397.5L283.9,397.7L285.4,397.9L286.9,398.2L288.3,398.4L289.8,398.7L291.3,399L292.8,399.2L294.3,399.4L295.8,399.5L297.3,399.7L298.8,399.7L300.3,399.7L301.8,399.7L303.3,399.7L304.7,399.7L306.2,399.6L307.7,399.5L309.2,399.4L310.7,399.3L312.2,399.1L313.7,399L315.2,398.7L316.7,398.5L318.2,398.3L319.7,398L321.1,397.7L322.6,397.4L324.1,397.1L325.6,396.8L327.1,396.5L328.6,396.2L330.1,395.8L331.6,395.5L333.1,395.1L334.6,394.7L336,394.3L337.5,393.9L339,393.5L340.5,393L342,392.6L343.5,392.2L345,391.7L346.5,391.3L348,390.8L349.5,390.4L351,389.9L352.4,389.5L353.9,389L355.4,388.5L356.9,388.1L358.4,387.6L359.9,387.2L361.4,386.8L362.9,386.4L364.4,386L365.9,385.6L367.3,385.3L368.8,385L370.3,384.8L371.8,384.6L373.3,384.5L374.8,384.4L376.3,384.4L377.8,384.4L379.3,384.4L380.8,384.5L382.3,384.6L383.7,384.7L385.2,384.9L386.7,385L388.2,385.2L389.7,385.5L391.2,385.7L392.7,386L394.2,386.3L395.7,386.6L397.2,386.9L398.6,387.2L400.1,387.5L401.6,387.8L403.1,388.1L404.6,388.4L406.1,388.7L407.6,389L409.1,389.3L410.6,389.6L412.1,389.9L413.6,390.2L415,390.5L416.5,390.8L418,391L419.5,391.3L421,391.6L422.5,391.9L424,392.1L425.5,392.3L427,392.6L428.5,392.8L429.9,393L431.4,393.2L432.9,393.3L434.4,393.5L435.9,393.7L437.4,393.8L438.9,393.9L440.4,394.1L441.9,394.2L443.4,394.3L444.9,394.4L446.3,394.5L447.8,394.6L449.3,394.7L450.8,394.8L452.3,394.9L453.8,395L455.3,395L456.8,395.1L458.3,395.2L459.8,395.2L461.3,395.3L462.7,395.3L464.2,395.3L465.7,395.3L467.2,395.3L468.7,395.3L470.2,395.3L471.7,395.2L473.2,395.2L474.7,395.1L476.2,395.1L477.6,395L479.1,394.9L480.6,394.8L482.1,394.8L483.6,394.7L485.1,394.6L486.6,394.5L488.1,394.4L489.6,394.3L491.1,394.2L492.6,394.1L494,393.9L495.5,393.8L497,393.7L498.5,393.5L500,393.4L501.5,393.2L503,393.1L504.5,392.9L506,392.7L507.5,392.5L508.9,392.4L510.4,392.2L511.9,392L513.4,391.8L514.9,391.6L516.4,391.4L517.9,391.2L519.4,391L520.9,390.8L522.4,390.5L523.9,390.3L525.3,390.1L526.8,389.9L528.3,389.8L529.8,389.6L531.3,389.5L532.8,389.4L534.3,389.3L535.8,389.2L537.3,389.2L538.8,389.2L540.2,389.2L541.7,389.2L543.2,389.2L544.7,389.2L546.2,389.2L547.7,389.3L549.2,389.3L550.7,389.4L552.2,389.4L553.7,389.5L555.2,389.6L556.6,389.7L558.1,389.8L559.6,389.9L561.1,390L562.6,390.1L564.1,390.2L565.6,390.3L567.1,390.4L568.6,390.5L570.1,390.6L571.5,390.7L573,390.8L574.5,390.9L576,391L577.5,391.2L579,391.3L580.5,391.4L582,391.5L583.5,391.7L585,391.8L586.5,391.9L587.9,392L589.4,392.1L590.9,392.2L592.4,392.3L593.9,392.4L595.4,392.5L596.9,392.6L598.4,392.7L599.9,392.8L601.4,392.8L602.9,392.9L604.3,393L605.8,393.1L607.3,393.1L608.8,393.2L610.3,393.3L611.8,393.3L613.3,393.4L614.8,393.4L616.3,393.5L617.8,393.6L619.2,393.6L620.7,393.6L622.2,393.7L623.7,393.7L625.2,393.7L626.7,393.8L628.2,393.8L629.7,393.8L631.2,393.8L632.7,393.8L634.2,393.8L635.6,393.8L637.1,393.7L638.6,393.7L640.1,393.7L641.6,393.6L643.1,393.6L644.6,393.6L646.1,393.5L647.6,393.4L649.1,393.4L650.5,393.3L652,393.3L653.5,393.2L655,393.1L656.5,393.1L658,393L659.5,393L661,392.9L662.5,392.8L664,392.7L665.5,392.7L666.9,392.6L668.4,392.5L669.9,392.4L671.4,392.3L672.9,392.3L674.4,392.2L675.9,392.1L677.4,392L678.9,391.9L680.4,391.8L681.8,391.7L683.3,391.7L684.8,391.6L686.3,391.5L687.8,391.4L689.3,391.4L690.8,391.3L692.3,391.3L693.8,391.2L695.3,391.2L696.8,391.1L698.2,391.1L699.7,391L701.2,391L702.7,391L704.2,390.9L705.7,390.9L707.2,390.9L708.7,390.8L710.2,390.8L711.7,390.8L713.2,390.8L714.6,390.7L716.1,390.7L717.6,390.7L719.1,390.7L720.6,390.7L722.1,390.6L723.6,390.6L725.1,390.6L726.6,390.6L728.1,390.6L729.5,390.6L731,390.6L732.5,390.6L734,390.6L735.5,390.6L737,390.6L738.5,390.6L740,390.6L741.5,390.6L743,390.6L744.5,390.6L745.9,390.7L747.4,390.7L748.9,390.7L750.4,390.7L751.9,390.7L753.4,390.7L754.9,390.8L756.4,390.8L757.9,390.8L759.4,390.8L760.8,390.8L762.3,390.8" fill="none" stroke="#ff7a14" stroke-width="2" stroke-linejoin="round"/>
<path d="M136.4,407.3L137.7,401.8L138.9,395.3L140.2,387.7L141.4,378.9L142.7,368.7L143.9,356.5L145.2,343L146.4,326.3L147.7,301.4L148.9,276.5L150.2,252.5L151.5,226.7L152.7,200.9L154,181.9L155.2,167.7L156.5,158.5L157.7,152.3L159,151.9L160.2,154.1L161.5,157.1L162.7,161.4L164,167.3L165.3,173.6L166.5,179.9L167.8,186.7L169,193.7L170.3,200.6L171.5,207.7L172.8,215.1L174,223.1L175.3,230.5L176.5,237.5L177.8,244.1L179,250.5L180.3,256.5L181.6,262.3L182.8,267.9L184.1,273.2L185.3,278.3L186.6,283.1L187.8,287.6L189.1,291.8L190.3,295.9L191.6,299.9L192.8,303.8L194.1,307.8L195.4,311.6L196.6,315.4L197.9,319.1L199.1,322.6L200.4,326.1L201.6,329.3L202.9,332.1L204.1,334.6L205.4,337L206.6,339.3L207.9,341.4L209.2,343.5L210.4,345.6L211.7,347.6L212.9,349.5L214.2,351.4L215.4,353.2L216.7,355L217.9,356.7L219.2,358.3L220.4,359.8L221.7,361.3L223,362.8L224.2,364.2L225.5,365.6L226.7,366.9L228,368.1L229.2,369.4L230.5,370.6L231.7,371.7L233,372.8L234.2,373.9L235.5,375L236.8,376L238,377L239.3,378L240.5,379L241.8,379.9L243,380.8L244.3,381.7L245.5,382.6L246.8,383.4L248,384.2L249.3,384.9L250.5,385.6L251.8,386.2L253.1,386.9L254.3,387.5L255.6,388.1L256.8,388.7L258.1,389.2L259.3,389.8L260.6,390.3L261.8,390.8L263.1,391.2L264.3,391.7L265.6,392.1L266.9,392.5L268.1,392.9L269.4,393.3L270.6,393.7L271.9,394L273.1,394.3L274.4,394.7L275.6,395L276.9,395.3L278.1,395.5L279.4,395.8L280.7,396L281.9,396.3L283.2,396.5L284.4,396.7L285.7,397L286.9,397.2L288.2,397.4L289.4,397.6L290.7,397.7L291.9,397.9L293.2,398.1L294.5,398.2L295.7,398.3L297,398.5L298.2,398.6L299.5,398.7L300.7,398.8L302,399L303.2,399L304.5,399.1L305.7,399.2L307,399.3L308.3,399.3L309.5,399.4L310.8,399.5L312,399.5L313.3,399.6L314.5,399.7L315.8,399.7L317,399.7L318.3,399.8L319.5,399.8L320.8,399.8L322,399.8L323.3,399.7L324.6,399.7L325.8,399.7L327.1,399.7L328.3,399.6L329.6,399.6L330.8,399.5L332.1,399.5L333.3,399.4L334.6,399.4L335.8,399.3L337.1,399.3L338.4,399.2L339.6,399.2L340.9,399.1L342.1,399.1L343.4,399L344.6,398.9L345.9,398.8L347.1,398.8L348.4,398.7L349.6,398.6L350.9,398.5L352.2,398.4L353.4,398.3L354.7,398.2L355.9,398.1L357.2,398L358.4,397.9L359.7,397.8L360.9,397.7L362.2,397.6L363.4,397.5L364.7,397.4L366,397.3L367.2,397.2L368.5,397.1L369.7,397L371,396.9L372.2,396.8L373.5,396.7L374.7,396.6L376,396.5L377.2,396.4L378.5,396.3L379.8,396.2L381,396.1L382.3,396L383.5,395.9L384.8,395.8L386,395.7L387.3,395.6L388.5,395.5L389.8,395.4L391,395.3L392.3,395.2L393.5,395.1L394.8,395L396.1,394.9L397.3,394.8L398.6,394.7L399.8,394.6L401.1,394.5L402.3,394.4L403.6,394.3L404.8,394.2L406.1,394.1L407.3,394.1L408.6,394L409.9,393.9L411.1,393.8L412.4,393.7L413.6,393.6L414.9,393.6L416.1,393.5L417.4,393.4L418.6,393.3L419.9,393.2L421.1,393.2L422.4,393.1L423.7,393L424.9,392.9L426.2,392.9L427.4,392.8L428.7,392.7L429.9,392.6L431.2,392.5L432.4,392.5L433.7,392.4L434.9,392.3L436.2,392.2L437.5,392.1L438.7,392L440,391.9L441.2,391.8L442.5,391.8L443.7,391.7L445,391.6L446.2,391.5L447.5,391.5L448.7,391.4L450,391.4L451.3,391.3L452.5,391.3L453.8,391.2L455,391.2L456.3,391.2L457.5,391.2L458.8,391.2L460,391.2L461.3,391.2L462.5,391.2L463.8,391.2L465,391.2L466.3,391.2L467.6,391.2L468.8,391.2L470.1,391.2L471.3,391.3L472.6,391.3L473.8,391.3L475.1,391.3L476.3,391.3L477.6,391.3L478.8,391.3L480.1,391.4L481.4,391.4L482.6,391.4L483.9,391.4L485.1,391.4L486.4,391.4L487.6,391.5L488.9,391.5L490.1,391.5L491.4,391.5L492.6,391.5L493.9,391.6L495.2,391.6L496.4,391.6L497.7,391.6L498.9,391.7L500.2,391.7L501.4,391.7L502.7,391.7L503.9,391.8L505.2,391.8L506.4,391.8L507.7,391.9L509,391.9L510.2,391.9L511.5,392L512.7,392L514,392L515.2,392.1L516.5,392.1L517.7,392.1L519,392.2L520.2,392.2L521.5,392.2L522.8,392.3L524,392.3L525.3,392.3L526.5,392.4L527.8,392.4L529,392.4L530.3,392.5L531.5,392.5L532.8,392.5L534,392.6L535.3,392.6L536.5,392.7L537.8,392.7L539.1,392.7L540.3,392.8L541.6,392.8L542.8,392.8L544.1,392.9L545.3,392.9L546.6,393L547.8,393L549.1,393L550.3,393.1L551.6,393.1L552.9,393.2L554.1,393.2L555.4,393.2L556.6,393.3L557.9,393.3L559.1,393.3L560.4,393.4L561.6,393.4L562.9,393.5L564.1,393.5L565.4,393.5L566.7,393.6L567.9,393.6L569.2,393.6L570.4,393.7L571.7,393.7L572.9,393.7L574.2,393.8L575.4,393.8L576.7,393.9L577.9,393.9L579.2,393.9L580.5,394L581.7,394L583,394L584.2,394.1L585.5,394.1L586.7,394.1L588,394.2L589.2,394.2L590.5,394.2L591.7,394.2L593,394.3L594.3,394.3L595.5,394.3L596.8,394.3L598,394.3L599.3,394.3L600.5,394.3L601.8,394.3L603,394.3L604.3,394.4L605.5,394.4L606.8,394.4L608,394.4L609.3,394.4L610.6,394.4L611.8,394.4L613.1,394.4L614.3,394.4L615.6,394.4L616.8,394.4L618.1,394.4L619.3,394.4L620.6,394.4L621.8,394.4L623.1,394.4L624.4,394.4L625.6,394.4L626.9,394.4L628.1,394.4L629.4,394.4L630.6,394.4L631.9,394.4L633.1,394.4L634.4,394.4L635.6,394.4L636.9,394.4L638.2,394.4L639.4,394.4L640.7,394.4L641.9,394.4L643.2,394.4L644.4,394.3L645.7,394.3L646.9,394.3L648.2,394.3L649.4,394.3L650.7,394.2L652,394.2L653.2,394.2L654.5,394.2L655.7,394.2L657,394.2L658.2,394.2L659.5,394.1L660.7,394.1L662,394.1L663.2,394.1L664.5,394.1L665.7,394.1L667,394.1L668.3,394.1L669.5,394L670.8,394L672,394L673.3,394L674.5,394L675.8,394L677,394L678.3,394L679.5,394L680.8,394L682.1,393.9L683.3,393.9L684.6,393.9L685.8,393.9L687.1,393.9L688.3,393.9L689.6,393.9L690.8,393.9L692.1,393.9L693.3,393.8L694.6,393.8L695.9,393.8L697.1,393.8L698.4,393.8L699.6,393.8L700.9,393.8L702.1,393.8L703.4,393.7L704.6,393.7L705.9,393.7L707.1,393.7L708.4,393.7L709.7,393.7L710.9,393.7L712.2,393.6L713.4,393.6L714.7,393.6L715.9,393.6L717.2,393.6L718.4,393.6L719.7,393.6L720.9,393.6L722.2,393.5L723.5,393.5L724.7,393.5L726,393.5L727.2,393.5L728.5,393.5L729.7,393.5L731,393.5L732.2,393.5L733.5,393.5L734.7,393.5L736,393.5L737.2,393.4L738.5,393.4L739.8,393.4L741,393.4L742.3,393.4L743.5,393.4L744.8,393.4L746,393.4L747.3,393.4L748.5,393.4L749.8,393.4L751,393.4L752.3,393.4L753.6,393.4L754.8,393.4L756.1,393.4L757.3,393.4L758.6,393.4L759.8,393.4L761.1,393.4L762.3,393.4" fill="none" stroke="#b000d6" stroke-width="2.3" stroke-dasharray="16 6"/>
<path d="M135.9,426.5L135.9,419.2M135.9,23.4L135.9,30.7M167.3,426.5L167.3,422M167.3,23.4L167.3,27.9M198.6,426.5L198.6,422M198.6,23.4L198.6,27.9M230,426.5L230,422M230,23.4L230,27.9M261.4,426.5L261.4,422M261.4,23.4L261.4,27.9M292.8,426.5L292.8,419.2M292.8,23.4L292.8,30.7M324.1,426.5L324.1,422M324.1,23.4L324.1,27.9M355.5,426.5L355.5,422M355.5,23.4L355.5,27.9M386.9,426.5L386.9,422M386.9,23.4L386.9,27.9M418.2,426.5L418.2,422M418.2,23.4L418.2,27.9M449.6,426.5L449.6,419.2M449.6,23.4L449.6,30.7M481,426.5L481,422M481,23.4L481,27.9M512.3,426.5L512.3,422M512.3,23.4L512.3,27.9M543.7,426.5L543.7,422M543.7,23.4L543.7,27.9M575.1,426.5L575.1,422M575.1,23.4L575.1,27.9M606.5,426.5L606.5,419.2M606.5,23.4L606.5,30.7M637.8,426.5L637.8,422M637.8,23.4L637.8,27.9M669.2,426.5L669.2,422M669.2,23.4L669.2,27.9M700.6,426.5L700.6,422M700.6,23.4L700.6,27.9M731.9,426.5L731.9,422M731.9,23.4L731.9,27.9M763.3,426.5L763.3,419.2M763.3,23.4L763.3,30.7M123.2,414L130.7,414M775.7,414L768.2,414M123.2,402.1L127.6,402.1M775.7,402.1L771.3,402.1M123.2,390.2L127.6,390.2M775.7,390.2L771.3,390.2M123.2,378.3L127.6,378.3M775.7,378.3L771.3,378.3M123.2,366.5L127.6,366.5M775.7,366.5L771.3,366.5M123.2,354.6L130.7,354.6M775.7,354.6L768.2,354.6M123.2,342.7L127.6,342.7M775.7,342.7L771.3,342.7M123.2,330.8L127.6,330.8M775.7,330.8L771.3,330.8M123.2,318.9L127.6,318.9M775.7,318.9L771.3,318.9M123.2,307L127.6,307M775.7,307L771.3,307M123.2,295.1L130.7,295.1M775.7,295.1L768.2,295.1M123.2,283.3L127.6,283.3M775.7,283.3L771.3,283.3M123.2,271.4L127.6,271.4M775.7,271.4L771.3,271.4M123.2,259.5L127.6,259.5M775.7,259.5L771.3,259.5M123.2,247.6L127.6,247.6M775.7,247.6L771.3,247.6M123.2,235.7L130.7,235.7M775.7,235.7L768.2,235.7M123.2,223.8L127.6,223.8M775.7,223.8L771.3,223.8M123.2,211.9L127.6,211.9M775.7,211.9L771.3,211.9M123.2,200.1L127.6,200.1M775.7,200.1L771.3,200.1M123.2,188.2L127.6,188.2M775.7,188.2L771.3,188.2M123.2,176.3L130.7,176.3M775.7,176.3L768.2,176.3M123.2,164.4L127.6,164.4M775.7,164.4L771.3,164.4M123.2,152.5L127.6,152.5M775.7,152.5L771.3,152.5M123.2,140.6L127.6,140.6M775.7,140.6L771.3,140.6M123.2,128.7L127.6,128.7M775.7,128.7L771.3,128.7M123.2,116.9L130.7,116.9M775.7,116.9L768.2,116.9M123.2,105L127.6,105M775.7,105L771.3,105M123.2,93.1L127.6,93.1M775.7,93.1L771.3,93.1M123.2,81.2L127.6,81.2M775.7,81.2L771.3,81.2M123.2,69.3L127.6,69.3M775.7,69.3L771.3,69.3M123.2,57.4L130.7,57.4M775.7,57.4L768.2,57.4M123.2,45.5L127.6,45.5M775.7,45.5L771.3,45.5M123.2,33.6L127.6,33.6M775.7,33.6L771.3,33.6" stroke="#000" stroke-width="1.5" fill="none" />
<rect x="123.2" y="23.4" width="652.5" height="403.1" fill="none" stroke="#000" stroke-width="2"/>
<text x="73.2" y="70.2" font-size="50" letter-spacing="-4.55">60</text>
<text x="72.8" y="189.9" font-size="50" letter-spacing="-4.92">40</text>
<text x="72" y="309.7" font-size="50" letter-spacing="-3.40">20</text>
<text x="90.8" y="429.2" font-size="50">0</text>
<text x="121.1" y="465.5" font-size="50">0</text>
<text x="260.4" y="465.5" font-size="50" letter-spacing="-4.65">100</text>
<text x="413.4" y="465.5" font-size="50" letter-spacing="-2.10">200</text>
<text x="569.9" y="465.5" font-size="50" letter-spacing="-2.70">300</text>
<text x="728.8" y="465.5" font-size="50" letter-spacing="-2.46">400</text>
<text transform="scale(1.07 1)"><tspan x="373.8" y="533.5" font-size="47">t </tspan><tspan x="401.3" y="537.2" font-size="53">[</tspan><tspan x="417.7" y="533.5" font-size="47" letter-spacing="-2.89">ps</tspan><tspan x="456.3" y="537.2" font-size="53">]</tspan></text>
<text x="162.3" y="76" font-size="53" letter-spacing="-0.68">(a)</text>
<text transform="rotate(-90)"><tspan x="-260.9" y="49.5" font-size="53" fill="#333">|</tspan><tspan x="-251" y="40.4" font-size="43" font-style="italic" class="m">χ</tspan><tspan x="-219.6" y="49.5" font-size="53" fill="#333">|</tspan><tspan x="-206.6" y="18.2" font-size="25">2</tspan></text>
<rect x="191.3" y="121.8" width="138.6" height="77" fill="#fff" stroke="#000" stroke-width="2"/>
<line x1="206.6" y1="139.3" x2="273.8" y2="139.3" stroke="#ff7f0e" stroke-width="2" />
<line x1="206.6" y1="181.8" x2="267.3" y2="181.8" stroke="#ff3cff" stroke-width="2.2" stroke-dasharray="16 6.2"/>
<text><tspan x="287.5" y="146.9" font-size="32" font-style="italic">p</tspan><tspan x="304.4" y="157.2" font-size="19" font-style="italic">2</tspan></text>
<text><tspan x="287.5" y="182.9" font-size="32" font-style="italic">p</tspan><tspan x="304.8" y="192.7" font-size="19" font-style="italic">1</tspan></text>
<rect x="367.6" y="81.4" width="369.3" height="227.6" fill="#fff" stroke="none" stroke-width="0"/>
<line x1="373.8" y1="302.5" x2="730.5" y2="302.5" stroke="#ffee2a" stroke-width="1.8" />
<path d="M373.8,239.5L374.8,245.6L375.8,251.4L376.8,257.1L377.8,262.5L378.8,267.6L379.8,272.4L380.8,276.9L381.7,281.1L382.7,284.9L383.7,288.4L384.7,291.5L385.7,294.2L386.7,296.5L387.7,298.4L388.7,299.8L389.7,300.9L390.7,301.5L391.7,301.7L392.7,301.5L393.7,300.8L394.7,299.7L395.7,298.2L396.7,296.3L397.6,293.9L398.6,291.2L399.6,288L400.6,284.5L401.6,280.7L402.6,276.5L403.6,271.9L404.6,267.1L405.6,261.9L406.6,256.5L407.6,250.9L408.6,245L409.6,238.9L410.6,232.6L411.6,226.2L412.6,219.7L413.5,213.1L414.5,206.4L415.5,199.6L416.5,192.9L417.5,186.1L418.5,179.4L419.5,172.8L420.5,166.2L421.5,159.8L422.5,153.5L423.5,147.4L424.5,141.5L425.5,135.8L426.5,130.3L427.5,125.1L428.4,120.2L429.4,115.6L430.4,111.4L431.4,107.4L432.4,103.9L433.4,100.7L434.4,97.9L435.4,95.5L436.4,93.4L437.4,91.9L438.4,90.7L439.4,89.9L440.4,89.6L441.4,89.8L442.4,90.3L443.4,91.3L444.3,92.7L445.3,94.5L446.3,96.7L447.3,99.4L448.3,102.4L449.3,105.8L450.3,109.6L451.3,113.7L452.3,118.1L453.3,122.9L454.3,128L455.3,133.3L456.3,138.9L457.3,144.7L458.3,150.8L459.2,157L460.2,163.3L461.2,169.8L462.2,176.4L463.2,183.1L464.2,189.9L465.2,196.6L466.2,203.4L467.2,210.1L468.2,216.8L469.2,223.3L470.2,229.8L471.2,236.1L472.2,242.3L473.2,248.3L474.2,254L475.1,259.5L476.1,264.8L477.1,269.8L478.1,274.5L479.1,278.8L480.1,282.9L481.1,286.5L482.1,289.8L483.1,292.7L484.1,295.3L485.1,297.4L486.1,299.1L487.1,300.4L488.1,301.2L489.1,301.6L490.1,301.6L491,301.2L492,300.4L493,299.1L494,297.4L495,295.2L496,292.7L497,289.8L498,286.5L499,282.8L500,278.8L501,274.4L502,269.7L503,264.8L504,259.5L505,254L505.9,248.2L506.9,242.2L507.9,236.1L508.9,229.7L509.9,223.3L510.9,216.7L511.9,210L512.9,203.3L513.9,196.6L514.9,189.8L515.9,183.1L516.9,176.4L517.9,169.8L518.9,163.3L519.9,156.9L520.9,150.7L521.8,144.7L522.8,138.9L523.8,133.3L524.8,127.9L525.8,122.9L526.8,118.1L527.8,113.7L528.8,109.5L529.8,105.8L530.8,102.4L531.8,99.3L532.8,96.7L533.8,94.5L534.8,92.7L535.8,91.3L536.7,90.3L537.7,89.8L538.7,89.6L539.7,90L540.7,90.7L541.7,91.9L542.7,93.5L543.7,95.5L544.7,97.9L545.7,100.7L546.7,103.9L547.7,107.5L548.7,111.4L549.7,115.7L550.7,120.3L551.7,125.2L552.6,130.4L553.6,135.8L554.6,141.5L555.6,147.4L556.6,153.6L557.6,159.8L558.6,166.3L559.6,172.8L560.6,179.5L561.6,186.2L562.6,192.9L563.6,199.7L564.6,206.4L565.6,213.1L566.6,219.8L567.6,226.3L568.5,232.7L569.5,239L570.5,245L571.5,250.9L572.5,256.6L573.5,262L574.5,267.1L575.5,272L576.5,276.5L577.5,280.7L578.5,284.6L579.5,288.1L580.5,291.2L581.5,293.9L582.5,296.3L583.4,298.2L584.4,299.7L585.4,300.8L586.4,301.5L587.4,301.7L588.4,301.5L589.4,300.9L590.4,299.8L591.4,298.3L592.4,296.4L593.4,294.1L594.4,291.4L595.4,288.3L596.4,284.9L597.4,281L598.4,276.9L599.3,272.3L600.3,267.5L601.3,262.4L602.3,257L603.3,251.4L604.3,245.5L605.3,239.5L606.3,233.2L607.3,226.8L608.3,220.3L609.3,213.7L610.3,207L611.3,200.2L612.3,193.5L613.3,186.7L614.2,180L615.2,173.4L616.2,166.8L617.2,160.4L618.2,154.1L619.2,147.9L620.2,142L621.2,136.3L622.2,130.8L623.2,125.6L624.2,120.7L625.2,116L626.2,111.7L627.2,107.8L628.2,104.2L629.2,100.9L630.1,98.1L631.1,95.7L632.1,93.6L633.1,92L634.1,90.8L635.1,90L636.1,89.6L637.1,89.7L638.1,90.2L639.1,91.2L640.1,92.5L641.1,94.3L642.1,96.5L643.1,99.1L644.1,102.1L645.1,105.5L646,109.2L647,113.3L648,117.7L649,122.5L650,127.5L651,132.8L652,138.4L653,144.2L654,150.2L655,156.4L656,162.7L657,169.2L658,175.8L659,182.5L660,189.2L660.9,196L661.9,202.8L662.9,209.5L663.9,216.2L664.9,222.7L665.9,229.2L666.9,235.6L667.9,241.7L668.9,247.7L669.9,253.5L670.9,259.1L671.9,264.3L672.9,269.3L673.9,274.1L674.9,278.4L675.9,282.5L676.8,286.2L677.8,289.5L678.8,292.5L679.8,295L680.8,297.2L681.8,298.9L682.8,300.3L683.8,301.2L684.8,301.6L685.8,301.7L686.8,301.3L687.8,300.4L688.8,299.2L689.8,297.5L690.8,295.4L691.7,293L692.7,290.1L693.7,286.8L694.7,283.2L695.7,279.2L696.7,274.8L697.7,270.2L698.7,265.2L699.7,260L700.7,254.5L701.7,248.7L702.7,242.8L703.7,236.6L704.7,230.3L705.7,223.9L706.7,217.3L707.6,210.6L708.6,203.9L709.6,197.2L710.6,190.4L711.6,183.7L712.6,177L713.6,170.4L714.6,163.9L715.6,157.5L716.6,151.3L717.6,145.2L718.6,139.4L719.6,133.8L720.6,128.4L721.6,123.3L722.6,118.5L723.5,114L724.5,109.9L725.5,106.1L726.5,102.7L727.5,99.6L728.5,96.9L729.5,94.7L730.5,92.8" fill="none" stroke="#ea1414" stroke-width="2.3"/>
<path d="M373.8,142.9L374.8,137.1L375.8,131.6L376.8,126.3L377.8,121.3L378.8,116.6L379.8,112.2L380.8,108.2L381.7,104.5L382.7,101.2L383.7,98.3L384.7,95.7L385.7,93.6L386.7,91.9L387.7,90.6L388.7,89.7L389.7,89.3L390.7,89.3L391.7,89.7L392.7,90.6L393.7,91.8L394.7,93.5L395.7,95.7L396.7,98.2L397.6,101.1L398.6,104.4L399.6,108.1L400.6,112.1L401.6,116.5L402.6,121.1L403.6,126.1L404.6,131.4L405.6,136.9L406.6,142.7L407.6,148.7L408.6,154.9L409.6,161.2L410.6,167.7L411.6,174.3L412.6,180.9L413.5,187.7L414.5,194.4L415.5,201.2L416.5,208L417.5,214.7L418.5,221.3L419.5,227.8L420.5,234.2L421.5,240.4L422.5,246.4L423.5,252.3L424.5,257.9L425.5,263.2L426.5,268.3L427.5,273.1L428.4,277.5L429.4,281.7L430.4,285.5L431.4,288.9L432.4,291.9L433.4,294.6L434.4,296.8L435.4,298.6L436.4,300L437.4,301L438.4,301.6L439.4,301.7L440.4,301.4L441.4,300.6L442.4,299.5L443.4,297.9L444.3,295.9L445.3,293.5L446.3,290.7L447.3,287.5L448.3,283.9L449.3,280L450.3,275.7L451.3,271.1L452.3,266.2L453.3,261L454.3,255.5L455.3,249.8L456.3,243.9L457.3,237.8L458.3,231.5L459.2,225L460.2,218.5L461.2,211.8L462.2,205.1L463.2,198.3L464.2,191.6L465.2,184.8L466.2,178.1L467.2,171.4L468.2,164.9L469.2,158.5L470.2,152.2L471.2,146.1L472.2,140.2L473.2,134.5L474.2,129.1L475.1,124L476.1,119.1L477.1,114.6L478.1,110.3L479.1,106.5L480.1,102.9L481.1,99.8L482.1,97.1L483.1,94.7L484.1,92.8L485.1,91.2L486.1,90.1L487.1,89.5L488.1,89.2L489.1,89.4L490.1,90L491,91.1L492,92.6L493,94.5L494,96.8L495,99.5L496,102.6L497,106L498,109.9L499,114L500,118.6L501,123.4L502,128.5L503,133.9L504,139.5L505,145.4L505.9,151.5L506.9,157.7L507.9,164.1L508.9,170.7L509.9,177.3L510.9,184L511.9,190.8L512.9,197.5L513.9,204.3L514.9,211L515.9,217.7L516.9,224.3L517.9,230.7L518.9,237L519.9,243.2L520.9,249.1L521.8,254.9L522.8,260.3L523.8,265.6L524.8,270.5L525.8,275.2L526.8,279.5L527.8,283.4L528.8,287.1L529.8,290.3L530.8,293.2L531.8,295.6L532.8,297.7L533.8,299.3L534.8,300.5L535.8,301.3L536.7,301.7L537.7,301.6L538.7,301.1L539.7,300.2L540.7,298.8L541.7,297L542.7,294.8L543.7,292.2L544.7,289.3L545.7,285.9L546.7,282.1L547.7,278.1L548.7,273.6L549.7,268.9L550.7,263.8L551.7,258.5L552.6,253L553.6,247.1L554.6,241.1L555.6,234.9L556.6,228.6L557.6,222.1L558.6,215.5L559.6,208.8L560.6,202L561.6,195.3L562.6,188.5L563.6,181.7L564.6,175.1L565.6,168.5L566.6,162L567.6,155.6L568.5,149.4L569.5,143.4L570.5,137.6L571.5,132.1L572.5,126.8L573.5,121.7L574.5,117L575.5,112.6L576.5,108.5L577.5,104.8L578.5,101.5L579.5,98.5L580.5,95.9L581.5,93.8L582.5,92L583.4,90.7L584.4,89.8L585.4,89.3L586.4,89.3L587.4,89.6L588.4,90.5L589.4,91.7L590.4,93.4L591.4,95.4L592.4,97.9L593.4,100.8L594.4,104.1L595.4,107.7L596.4,111.7L597.4,116.1L598.4,120.7L599.3,125.7L600.3,130.9L601.3,136.4L602.3,142.2L603.3,148.1L604.3,154.3L605.3,160.6L606.3,167.1L607.3,173.7L608.3,180.3L609.3,187.1L610.3,193.8L611.3,200.6L612.3,207.4L613.3,214.1L614.2,220.7L615.2,227.2L616.2,233.6L617.2,239.8L618.2,245.9L619.2,251.8L620.2,257.4L621.2,262.8L622.2,267.9L623.2,272.7L624.2,277.2L625.2,281.3L626.2,285.1L627.2,288.6L628.2,291.6L629.2,294.3L630.1,296.6L631.1,298.5L632.1,299.9L633.1,300.9L634.1,301.5L635.1,301.7L636.1,301.4L637.1,300.7L638.1,299.6L639.1,298.1L640.1,296.1L641.1,293.7L642.1,290.9L643.1,287.8L644.1,284.2L645.1,280.3L646,276.1L647,271.5L648,266.6L649,261.5L650,256L651,250.3L652,244.4L653,238.3L654,232L655,225.6L656,219.1L657,212.4L658,205.7L659,198.9L660,192.2L660.9,185.4L661.9,178.7L662.9,172L663.9,165.5L664.9,159.1L665.9,152.8L666.9,146.7L667.9,140.7L668.9,135.1L669.9,129.6L670.9,124.4L671.9,119.5L672.9,115L673.9,110.7L674.9,106.8L675.9,103.3L676.8,100.1L677.8,97.3L678.8,94.9L679.8,92.9L680.8,91.4L681.8,90.2L682.8,89.5L683.8,89.2L684.8,89.4L685.8,90L686.8,91L687.8,92.4L688.8,94.3L689.8,96.5L690.8,99.2L691.7,102.3L692.7,105.7L693.7,109.5L694.7,113.6L695.7,118.1L696.7,122.9L697.7,128L698.7,133.4L699.7,139L700.7,144.9L701.7,150.9L702.7,157.1L703.7,163.5L704.7,170.1L705.7,176.7L706.7,183.4L707.6,190.1L708.6,196.9L709.6,203.7L710.6,210.4L711.6,217.1L712.6,223.7L713.6,230.1L714.6,236.5L715.6,242.6L716.6,248.6L717.6,254.3L718.6,259.9L719.6,265.1L720.6,270.1L721.6,274.7L722.6,279.1L723.5,283.1L724.5,286.7L725.5,290L726.5,292.9L727.5,295.4L728.5,297.5L729.5,299.2L730.5,300.4" fill="none" stroke="#0808e4" stroke-width="2.3" stroke-dasharray="13 9"/>
<path d="M373.8,309L373.8,303.5M373.8,81.4L373.8,86.9M433.2,309L433.2,305M433.2,81.4L433.2,85.4M492.7,309L492.7,303.5M492.7,81.4L492.7,86.9M552.2,309L552.2,305M552.2,81.4L552.2,85.4M611.6,309L611.6,303.5M611.6,81.4L611.6,86.9M671,309L671,305M671,81.4L671,85.4M730.5,309L730.5,303.5M730.5,81.4L730.5,86.9M367.6,301.7L373.1,301.7M736.9,301.7L731.4,301.7M367.6,268.2L371.6,268.2M736.9,268.2L732.9,268.2M367.6,234.8L373.1,234.8M736.9,234.8L731.4,234.8M367.6,201.3L371.6,201.3M736.9,201.3L732.9,201.3M367.6,167.9L373.1,167.9M736.9,167.9L731.4,167.9M367.6,134.4L371.6,134.4M736.9,134.4L732.9,134.4M367.6,101L373.1,101M736.9,101L731.4,101" stroke="#000" stroke-width="1.5" fill="none" />
<rect x="367.6" y="81.4" width="369.3" height="227.6" fill="none" stroke="#000" stroke-width="2"/>
<text x="346.3" y="109" font-size="33">3</text>
<text x="346.8" y="175.9" font-size="33">2</text>
<text x="347" y="242.8" font-size="33">1</text>
<text x="346.3" y="308.6" font-size="33">0</text>
<text x="345.1" y="339.9" font-size="33" letter-spacing="-0.88">300</text>
<text x="462.2" y="339.9" font-size="33" letter-spacing="-2.02">301</text>
<text x="581.9" y="339.9" font-size="33" letter-spacing="-0.90">302</text>
<text x="698.3" y="339.9" font-size="33" letter-spacing="-1.27">303</text>
<text transform="scale(1.07 1)"><tspan x="466.8" y="372" font-size="32">t </tspan><tspan x="483.3" y="373.7" font-size="35">[</tspan><tspan x="493.1" y="372" font-size="32" letter-spacing="-1.55">ps</tspan><tspan x="519.4" y="373.7" font-size="35">]</tspan></text>
<line x1="455.5" y1="57" x2="490.8" y2="57" stroke="#0808e4" stroke-width="2.5" stroke-dasharray="12.3 9.8"/>
<line x1="554" y1="57" x2="589" y2="57" stroke="#ea1414" stroke-width="2.5" />
<text><tspan x="490.2" y="64.6" font-size="28">|</tspan><tspan x="503" y="64.4" font-size="25" font-style="italic" class="m">ϕ</tspan><tspan x="526.2" y="64.6" font-size="28">|</tspan><tspan x="532.4" y="52" font-size="14">2</tspan></text>
<text><tspan x="595.7" y="64.6" font-size="28">|</tspan><tspan x="605.2" y="65.2" font-size="20" font-style="italic" class="m">χ</tspan><tspan x="631.4" y="64.6" font-size="28">|</tspan><tspan x="638" y="52" font-size="14">2</tspan></text>
</g>
<g id="panel-b">
<line x1="901.4" y1="370.6" x2="1527.4" y2="370.6" stroke="#000" stroke-width="1.2" />
<path d="M901.4,33.6L901.8,183.8L902.2,331.7L902.6,397.7L903,406.9L903.4,410.6L903.8,410.7L904.2,410.7L904.6,410.8L905,410.8L905.3,410.8L905.7,410.8L906.1,410.8L906.5,410.8L906.9,410.8L907.3,410.8L907.7,410.8L908.1,410.8L908.5,410.8L908.9,410.8L909.3,410.8L909.7,410.8L910.1,410.8L910.5,410.7L910.9,410.7L911.3,410.7L911.7,410.6L912.1,410.6L912.4,410.6L912.8,410.5L913.2,410.5L913.6,410.4L914,410.4L914.4,410.3L914.8,410.3L915.2,410.2L915.6,410.1L916,410.1L916.4,410L916.8,410L917.2,409.9L917.6,409.8L918,409.8L918.4,409.7L918.8,409.6L919.2,409.6L919.5,409.5L919.9,409.4L920.3,409.4L920.7,409.3L921.1,409.2L921.5,409.2L921.9,409.1L922.3,409L922.7,409L923.1,408.9L923.5,408.9L923.9,408.8L924.3,408.7L924.7,408.7L925.1,408.6L925.5,408.6L925.9,408.5L926.3,408.5L926.7,408.4L927,408.4L927.4,408.3L927.8,408.3L928.2,408.2L928.6,408.2L929,408.1L929.4,408.1L929.8,408L930.2,408L930.6,407.9L931,407.9L931.4,407.8L931.8,407.7L932.2,407.7L932.6,407.6L933,407.6L933.4,407.5L933.8,407.5L934.1,407.4L934.5,407.4L934.9,407.3L935.3,407.3L935.7,407.2L936.1,407.2L936.5,407.1L936.9,407L937.3,407L937.7,406.9L938.1,406.9L938.5,406.8L938.9,406.8L939.3,406.7L939.7,406.7L940.1,406.6L940.5,406.5L940.9,406.5L941.2,406.4L941.6,406.4L942,406.3L942.4,406.2L942.8,406.2L943.2,406.1L943.6,406.1L944,406L944.4,405.9L944.8,405.9L945.2,405.8L945.6,405.7L946,405.7L946.4,405.6L946.8,405.5L947.2,405.5L947.6,405.4L948,405.3L948.4,405.3L949.8,405L951.3,404.7L952.7,404.4L954.2,404.2L955.6,403.9L957.1,403.6L958.5,403.3L960,402.9L961.4,402.6L962.9,402.3L964.3,402L965.8,401.6L967.2,401.3L968.7,400.9L970.1,400.5L971.6,400.1L973,399.8L974.5,399.4L975.9,399L977.4,398.6L978.8,398.2L980.3,397.8L981.7,397.4L983.2,397L984.6,396.6L986.1,396.2L987.5,395.8L989,395.4L990.4,395L991.9,394.6L993.3,394.2L994.8,393.8L996.2,393.4L997.7,393L999.1,392.6L1000.6,392.2L1002,391.7L1003.5,391.3L1004.9,390.9L1006.4,390.5L1007.9,390L1009.3,389.6L1010.8,389.2L1012.2,388.7L1013.7,388.3L1015.1,387.8L1016.6,387.4L1018,386.9L1019.5,386.5L1020.9,386L1022.4,385.6L1023.8,385.1L1025.3,384.6L1026.7,384.2L1028.2,383.7L1029.6,383.2L1031.1,382.8L1032.5,382.3L1034,381.8L1035.4,381.4L1036.9,380.9L1038.3,380.4L1039.8,379.9L1041.2,379.5L1042.7,379L1044.1,378.5L1045.6,378.1L1047,377.6L1048.5,377.2L1049.9,376.7L1051.4,376.3L1052.8,375.9L1054.3,375.5L1055.7,375.1L1057.2,374.7L1058.6,374.3L1060.1,374L1061.5,373.7L1063,373.3L1064.5,373L1065.9,372.7L1067.4,372.5L1068.8,372.2L1070.3,371.9L1071.7,371.7L1073.2,371.4L1074.6,371.2L1076.1,371L1077.5,370.8L1079,370.6L1080.4,370.4L1081.9,370.2L1083.3,370.1L1084.8,370L1086.2,369.8L1087.7,369.7L1089.1,369.7L1090.6,369.6L1092,369.6L1093.5,369.6L1094.9,369.7L1096.4,369.8L1097.8,370L1099.3,370.2L1100.7,370.4L1102.2,370.7L1103.6,371.1L1105.1,371.5L1106.5,372L1108,372.5L1109.4,373.1L1110.9,373.6L1112.3,374.2L1113.8,374.9L1115.2,375.5L1116.7,376.2L1118.1,376.8L1119.6,377.5L1121,378.1L1122.5,378.8L1124,379.4L1125.4,380L1126.9,380.6L1128.3,381.2L1129.8,381.8L1131.2,382.3L1132.7,382.8L1134.1,383.3L1135.6,383.8L1137,384.2L1138.5,384.6L1139.9,385L1141.4,385.4L1142.8,385.7L1144.3,386L1145.7,386.3L1147.2,386.5L1148.6,386.7L1150.1,386.9L1151.5,387L1153,387.1L1154.4,387.2L1155.9,387.3L1157.3,387.3L1158.8,387.3L1160.2,387.3L1161.7,387.2L1163.1,387.2L1164.6,387.1L1166,387L1167.5,386.9L1168.9,386.8L1170.4,386.6L1171.8,386.5L1173.3,386.3L1174.7,386.1L1176.2,386L1177.6,385.8L1179.1,385.6L1180.6,385.4L1182,385.2L1183.5,384.9L1184.9,384.7L1186.4,384.5L1187.8,384.3L1189.3,384.1L1190.7,383.8L1192.2,383.6L1193.6,383.4L1195.1,383.1L1196.5,382.9L1198,382.7L1199.4,382.4L1200.9,382.2L1202.3,382L1203.8,381.7L1205.2,381.5L1206.7,381.3L1208.1,381.1L1209.6,380.8L1211,380.6L1212.5,380.4L1213.9,380.2L1215.4,380L1216.8,379.8L1218.3,379.6L1219.7,379.4L1221.2,379.2L1222.6,379L1224.1,378.8L1225.5,378.6L1227,378.4L1228.4,378.2L1229.9,378.1L1231.3,377.9L1232.8,377.8L1234.2,377.6L1235.7,377.5L1237.1,377.4L1238.6,377.3L1240.1,377.2L1241.5,377.1L1243,377L1244.4,376.9L1245.9,376.8L1247.3,376.8L1248.8,376.8L1250.2,376.8L1251.7,376.8L1253.1,376.8L1254.6,376.8L1256,376.9L1257.5,376.9L1258.9,377L1260.4,377.1L1261.8,377.2L1263.3,377.3L1264.7,377.4L1266.2,377.5L1267.6,377.6L1269.1,377.8L1270.5,377.9L1272,378L1273.4,378.2L1274.9,378.4L1276.3,378.5L1277.8,378.7L1279.2,378.9L1280.7,379.1L1282.1,379.2L1283.6,379.4L1285,379.6L1286.5,379.8L1287.9,380L1289.4,380.2L1290.8,380.4L1292.3,380.6L1293.7,380.8L1295.2,381L1296.7,381.2L1298.1,381.3L1299.6,381.5L1301,381.7L1302.5,381.9L1303.9,382L1305.4,382.2L1306.8,382.3L1308.3,382.5L1309.7,382.6L1311.2,382.7L1312.6,382.9L1314.1,383L1315.5,383.1L1317,383.2L1318.4,383.2L1319.9,383.3L1321.3,383.4L1322.8,383.4L1324.2,383.4L1325.7,383.4L1327.1,383.5L1328.6,383.5L1330,383.4L1331.5,383.4L1332.9,383.4L1334.4,383.4L1335.8,383.3L1337.3,383.3L1338.7,383.2L1340.2,383.1L1341.6,383.1L1343.1,383L1344.5,382.9L1346,382.9L1347.4,382.8L1348.9,382.7L1350.3,382.6L1351.8,382.5L1353.2,382.4L1354.7,382.3L1356.2,382.2L1357.6,382.1L1359.1,382L1360.5,381.9L1362,381.8L1363.4,381.7L1364.9,381.6L1366.3,381.5L1367.8,381.4L1369.2,381.2L1370.7,381.1L1372.1,381L1373.6,380.9L1375,380.8L1376.5,380.7L1377.9,380.7L1379.4,380.6L1380.8,380.5L1382.3,380.4L1383.7,380.3L1385.2,380.2L1386.6,380.1L1388.1,380L1389.5,380L1391,379.9L1392.4,379.8L1393.9,379.7L1395.3,379.7L1396.8,379.6L1398.2,379.6L1399.7,379.5L1401.1,379.5L1402.6,379.4L1404,379.4L1405.5,379.4L1406.9,379.3L1408.4,379.3L1409.8,379.3L1411.3,379.3L1412.8,379.2L1414.2,379.2L1415.7,379.2L1417.1,379.2L1418.6,379.2L1420,379.1L1421.5,379.1L1422.9,379.1L1424.4,379.1L1425.8,379.1L1427.3,379.1L1428.7,379.2L1430.2,379.2L1431.6,379.2L1433.1,379.3L1434.5,379.3L1436,379.4L1437.4,379.5L1438.9,379.5L1440.3,379.6L1441.8,379.7L1443.2,379.8L1444.7,379.9L1446.1,380L1447.6,380.1L1449,380.2L1450.5,380.4L1451.9,380.5L1453.4,380.6L1454.8,380.7L1456.3,380.7L1457.7,380.8L1459.2,380.9L1460.6,381L1462.1,381.1L1463.5,381.1L1465,381.2L1466.4,381.3L1467.9,381.3L1469.3,381.4L1470.8,381.4L1472.3,381.5L1473.7,381.5L1475.2,381.6L1476.6,381.6L1478.1,381.6L1479.5,381.6L1481,381.6L1482.4,381.6L1483.9,381.6L1485.3,381.6L1486.8,381.6L1488.2,381.6L1489.7,381.6L1491.1,381.6L1492.6,381.6L1494,381.6L1495.5,381.6L1496.9,381.5L1498.4,381.5L1499.8,381.5L1501.3,381.4L1502.7,381.4L1504.2,381.4L1505.6,381.4L1507.1,381.3L1508.5,381.3L1510,381.2L1511.4,381.2L1512.9,381.1L1514.3,381.1L1515.8,381L1517.2,381L1518.7,380.9L1520.1,380.9L1521.6,380.8L1523,380.8L1524.5,380.8L1525.9,380.7L1527.4,380.7" fill="none" stroke="#ff7f0e" stroke-width="2.2" stroke-linejoin="round"/>
<line x1="901.4" y1="381.8" x2="1527.4" y2="381.8" stroke="#404040" stroke-width="2.0" stroke-opacity="0.8"/>
<path d="M901.4,33.6L901.8,34.1L902.2,34.8L902.6,35.7L903,36.8L903.4,38.1L903.8,39.4L904.2,40.9L904.6,42.8L905,44.9L905.3,47.3L905.7,49.9L906.1,52.7L906.5,55.7L906.9,58.9L907.3,62.2L907.7,65.7L908.1,69.4L908.5,73.5L908.9,77.9L909.3,82.7L909.7,88L910.1,93.8L910.5,100.2L910.9,107.1L911.3,115.2L911.7,127.1L912.1,140.6L912.4,152.6L912.8,163.3L913.2,173.6L913.6,183.6L914,193.4L914.4,203L914.8,212.6L915.2,222.2L915.6,232L916,241.7L916.4,251.3L916.8,260.7L917.2,269.8L917.6,278.4L918,286.5L918.4,294.1L918.8,301.4L919.2,308.4L919.5,315.1L919.9,321.6L920.3,327.7L920.7,333.5L921.1,339L921.5,344.2L921.9,349.4L922.3,354.5L922.7,359.5L923.1,364.3L923.5,368.8L923.9,372.8L924.3,376.4L924.7,379.5L925.1,381.9L925.5,384L925.9,386L926.3,387.9L926.7,389.6L927,391.3L927.4,392.8L927.8,394.2L928.2,395.5L928.6,396.6L929,397.6L929.4,398.4L929.8,399.1L930.2,399.7L930.6,400.2L931,400.8L931.4,401.3L931.8,401.7L932.2,402.2L932.6,402.6L933,403L933.4,403.4L933.8,403.8L934.1,404.1L934.5,404.4L934.9,404.7L935.3,405L935.7,405.2L936.1,405.4L936.5,405.5L936.9,405.7L937.3,405.7L937.7,405.8L938.1,405.8L938.5,405.8L938.9,405.9L939.3,405.9L939.7,405.9L940.1,405.9L940.5,406L940.9,406L941.2,406L941.6,406L942,406L942.4,406L942.8,406L943.2,406.1L943.6,406.1L944,406.1L944.4,406.1L944.8,406.1L945.2,406.1L945.6,406.1L946,406.1L946.4,406.1L946.8,406.1L947.2,406L947.6,406L948,406L948.4,406L949.8,405.9L951.3,405.7L952.7,405.6L954.2,405.4L955.6,405.3L957.1,405.1L958.5,404.9L960,404.6L961.4,404.4L962.9,404.1L964.3,403.7L965.8,403.4L967.2,403.1L968.7,402.8L970.1,402.4L971.6,402.1L973,401.8L974.5,401.5L975.9,401.2L977.4,400.8L978.8,400.5L980.3,400.2L981.7,399.8L983.2,399.5L984.6,399.2L986.1,398.8L987.5,398.5L989,398.1L990.4,397.8L991.9,397.4L993.3,397L994.8,396.6L996.2,396.3L997.7,395.9L999.1,395.5L1000.6,395.1L1002,394.7L1003.5,394.3L1004.9,393.9L1006.4,393.5L1007.9,393.1L1009.3,392.7L1010.8,392.3L1012.2,391.9L1013.7,391.5L1015.1,391.1L1016.6,390.7L1018,390.3L1019.5,389.9L1020.9,389.4L1022.4,389L1023.8,388.6L1025.3,388.2L1026.7,387.7L1028.2,387.3L1029.6,386.9L1031.1,386.4L1032.5,386L1034,385.5L1035.4,385.1L1036.9,384.6L1038.3,384.2L1039.8,383.8L1041.2,383.3L1042.7,382.9L1044.1,382.4L1045.6,382L1047,381.5L1048.5,381.1L1049.9,380.6L1051.4,380.2L1052.8,379.8L1054.3,379.3L1055.7,378.9L1057.2,378.5L1058.6,378.1L1060.1,377.7L1061.5,377.4L1063,377L1064.5,376.6L1065.9,376.2L1067.4,375.9L1068.8,375.5L1070.3,375.2L1071.7,374.9L1073.2,374.5L1074.6,374.2L1076.1,373.9L1077.5,373.5L1079,373.2L1080.4,372.9L1081.9,372.6L1083.3,372.3L1084.8,372L1086.2,371.6L1087.7,371.3L1089.1,371L1090.6,370.7L1092,370.4L1093.5,370.1L1094.9,369.8L1096.4,369.6L1097.8,369.3L1099.3,369L1100.7,368.7L1102.2,368.4L1103.6,368.1L1105.1,367.9L1106.5,367.6L1108,367.4L1109.4,367.1L1110.9,366.9L1112.3,366.6L1113.8,366.4L1115.2,366.2L1116.7,366L1118.1,365.8L1119.6,365.6L1121,365.4L1122.5,365.2L1124,365L1125.4,364.9L1126.9,364.7L1128.3,364.6L1129.8,364.5L1131.2,364.3L1132.7,364.2L1134.1,364.1L1135.6,364L1137,363.9L1138.5,363.8L1139.9,363.8L1141.4,363.7L1142.8,363.6L1144.3,363.6L1145.7,363.5L1147.2,363.5L1148.6,363.5L1150.1,363.5L1151.5,363.5L1153,363.5L1154.4,363.5L1155.9,363.5L1157.3,363.5L1158.8,363.5L1160.2,363.6L1161.7,363.6L1163.1,363.7L1164.6,363.7L1166,363.8L1167.5,363.9L1168.9,363.9L1170.4,364L1171.8,364.1L1173.3,364.1L1174.7,364.2L1176.2,364.3L1177.6,364.4L1179.1,364.5L1180.6,364.6L1182,364.7L1183.5,364.8L1184.9,364.9L1186.4,365L1187.8,365.1L1189.3,365.2L1190.7,365.3L1192.2,365.5L1193.6,365.6L1195.1,365.7L1196.5,365.9L1198,366L1199.4,366.1L1200.9,366.3L1202.3,366.4L1203.8,366.6L1205.2,366.7L1206.7,366.9L1208.1,367L1209.6,367.2L1211,367.3L1212.5,367.5L1213.9,367.7L1215.4,367.8L1216.8,368L1218.3,368.2L1219.7,368.3L1221.2,368.5L1222.6,368.7L1224.1,368.8L1225.5,369L1227,369.1L1228.4,369.3L1229.9,369.4L1231.3,369.6L1232.8,369.7L1234.2,369.9L1235.7,370L1237.1,370.1L1238.6,370.3L1240.1,370.4L1241.5,370.5L1243,370.7L1244.4,370.8L1245.9,370.9L1247.3,371L1248.8,371.1L1250.2,371.2L1251.7,371.3L1253.1,371.4L1254.6,371.5L1256,371.6L1257.5,371.7L1258.9,371.8L1260.4,371.8L1261.8,371.9L1263.3,372L1264.7,372L1266.2,372.1L1267.6,372.2L1269.1,372.2L1270.5,372.3L1272,372.3L1273.4,372.4L1274.9,372.4L1276.3,372.5L1277.8,372.5L1279.2,372.6L1280.7,372.6L1282.1,372.6L1283.6,372.7L1285,372.7L1286.5,372.7L1287.9,372.8L1289.4,372.8L1290.8,372.8L1292.3,372.8L1293.7,372.8L1295.2,372.8L1296.7,372.9L1298.1,372.9L1299.6,372.9L1301,372.9L1302.5,372.9L1303.9,372.9L1305.4,372.9L1306.8,372.9L1308.3,372.9L1309.7,372.9L1311.2,372.9L1312.6,372.9L1314.1,372.9L1315.5,372.9L1317,372.9L1318.4,372.9L1319.9,372.9L1321.3,372.8L1322.8,372.8L1324.2,372.8L1325.7,372.8L1327.1,372.8L1328.6,372.8L1330,372.7L1331.5,372.7L1332.9,372.7L1334.4,372.7L1335.8,372.7L1337.3,372.6L1338.7,372.6L1340.2,372.6L1341.6,372.5L1343.1,372.5L1344.5,372.5L1346,372.4L1347.4,372.4L1348.9,372.4L1350.3,372.3L1351.8,372.3L1353.2,372.2L1354.7,372.2L1356.2,372.2L1357.6,372.1L1359.1,372.1L1360.5,372L1362,372L1363.4,372L1364.9,371.9L1366.3,371.9L1367.8,371.8L1369.2,371.8L1370.7,371.8L1372.1,371.7L1373.6,371.7L1375,371.6L1376.5,371.6L1377.9,371.6L1379.4,371.5L1380.8,371.5L1382.3,371.5L1383.7,371.4L1385.2,371.4L1386.6,371.3L1388.1,371.3L1389.5,371.3L1391,371.2L1392.4,371.2L1393.9,371.1L1395.3,371.1L1396.8,371.1L1398.2,371L1399.7,371L1401.1,370.9L1402.6,370.9L1404,370.9L1405.5,370.8L1406.9,370.8L1408.4,370.7L1409.8,370.7L1411.3,370.7L1412.8,370.6L1414.2,370.6L1415.7,370.5L1417.1,370.5L1418.6,370.5L1420,370.4L1421.5,370.4L1422.9,370.4L1424.4,370.3L1425.8,370.3L1427.3,370.3L1428.7,370.3L1430.2,370.3L1431.6,370.3L1433.1,370.3L1434.5,370.2L1436,370.2L1437.4,370.2L1438.9,370.2L1440.3,370.2L1441.8,370.2L1443.2,370.2L1444.7,370.2L1446.1,370.2L1447.6,370.2L1449,370.2L1450.5,370.2L1451.9,370.2L1453.4,370.2L1454.8,370.2L1456.3,370.3L1457.7,370.3L1459.2,370.3L1460.6,370.3L1462.1,370.3L1463.5,370.3L1465,370.3L1466.4,370.3L1467.9,370.3L1469.3,370.4L1470.8,370.4L1472.3,370.4L1473.7,370.4L1475.2,370.4L1476.6,370.5L1478.1,370.5L1479.5,370.5L1481,370.5L1482.4,370.6L1483.9,370.6L1485.3,370.6L1486.8,370.6L1488.2,370.6L1489.7,370.7L1491.1,370.7L1492.6,370.7L1494,370.7L1495.5,370.7L1496.9,370.7L1498.4,370.8L1499.8,370.8L1501.3,370.8L1502.7,370.8L1504.2,370.8L1505.6,370.8L1507.1,370.8L1508.5,370.8L1510,370.8L1511.4,370.8L1512.9,370.8L1514.3,370.8L1515.8,370.8L1517.2,370.8L1518.7,370.8L1520.1,370.8L1521.6,370.8L1523,370.8L1524.5,370.8L1525.9,370.8L1527.4,370.8" fill="none" stroke="#b000d6" stroke-width="2.3" stroke-dasharray="14.4 5"/>
<path d="M900.8,424.7L900.8,417.4M900.8,21.7L900.8,29M932.2,424.7L932.2,420.2M932.2,21.7L932.2,26.2M963.5,424.7L963.5,420.2M963.5,21.7L963.5,26.2M994.9,424.7L994.9,420.2M994.9,21.7L994.9,26.2M1026.3,424.7L1026.3,420.2M1026.3,21.7L1026.3,26.2M1057.6,424.7L1057.6,417.4M1057.6,21.7L1057.6,29M1089,424.7L1089,420.2M1089,21.7L1089,26.2M1120.4,424.7L1120.4,420.2M1120.4,21.7L1120.4,26.2M1151.8,424.7L1151.8,420.2M1151.8,21.7L1151.8,26.2M1183.1,424.7L1183.1,420.2M1183.1,21.7L1183.1,26.2M1214.5,424.7L1214.5,417.4M1214.5,21.7L1214.5,29M1245.9,424.7L1245.9,420.2M1245.9,21.7L1245.9,26.2M1277.2,424.7L1277.2,420.2M1277.2,21.7L1277.2,26.2M1308.6,424.7L1308.6,420.2M1308.6,21.7L1308.6,26.2M1340,424.7L1340,420.2M1340,21.7L1340,26.2M1371.3,424.7L1371.3,417.4M1371.3,21.7L1371.3,29M1402.7,424.7L1402.7,420.2M1402.7,21.7L1402.7,26.2M1434.1,424.7L1434.1,420.2M1434.1,21.7L1434.1,26.2M1465.5,424.7L1465.5,420.2M1465.5,21.7L1465.5,26.2M1496.8,424.7L1496.8,420.2M1496.8,21.7L1496.8,26.2M1528.2,424.7L1528.2,417.4M1528.2,21.7L1528.2,29M887.8,411.9L895.3,411.9M1540.4,411.9L1532.9,411.9M887.8,400.4L892.2,400.4M1540.4,400.4L1536,400.4M887.8,388.9L892.2,388.9M1540.4,388.9L1536,388.9M887.8,377.5L892.2,377.5M1540.4,377.5L1536,377.5M887.8,366L892.2,366M1540.4,366L1536,366M887.8,354.5L895.3,354.5M1540.4,354.5L1532.9,354.5M887.8,343L892.2,343M1540.4,343L1536,343M887.8,331.5L892.2,331.5M1540.4,331.5L1536,331.5M887.8,320.1L892.2,320.1M1540.4,320.1L1536,320.1M887.8,308.6L892.2,308.6M1540.4,308.6L1536,308.6M887.8,297.1L895.3,297.1M1540.4,297.1L1532.9,297.1M887.8,285.6L892.2,285.6M1540.4,285.6L1536,285.6M887.8,274.1L892.2,274.1M1540.4,274.1L1536,274.1M887.8,262.7L892.2,262.7M1540.4,262.7L1536,262.7M887.8,251.2L892.2,251.2M1540.4,251.2L1536,251.2M887.8,239.7L895.3,239.7M1540.4,239.7L1532.9,239.7M887.8,228.2L892.2,228.2M1540.4,228.2L1536,228.2M887.8,216.7L892.2,216.7M1540.4,216.7L1536,216.7M887.8,205.3L892.2,205.3M1540.4,205.3L1536,205.3M887.8,193.8L892.2,193.8M1540.4,193.8L1536,193.8M887.8,182.3L895.3,182.3M1540.4,182.3L1532.9,182.3M887.8,170.8L892.2,170.8M1540.4,170.8L1536,170.8M887.8,159.3L892.2,159.3M1540.4,159.3L1536,159.3M887.8,147.9L892.2,147.9M1540.4,147.9L1536,147.9M887.8,136.4L892.2,136.4M1540.4,136.4L1536,136.4M887.8,124.9L895.3,124.9M1540.4,124.9L1532.9,124.9M887.8,113.4L892.2,113.4M1540.4,113.4L1536,113.4M887.8,101.9L892.2,101.9M1540.4,101.9L1536,101.9M887.8,90.5L892.2,90.5M1540.4,90.5L1536,90.5M887.8,79L892.2,79M1540.4,79L1536,79M887.8,67.5L895.3,67.5M1540.4,67.5L1532.9,67.5M887.8,56L892.2,56M1540.4,56L1536,56M887.8,44.5L892.2,44.5M1540.4,44.5L1536,44.5M887.8,33.1L892.2,33.1M1540.4,33.1L1536,33.1" stroke="#000" stroke-width="1.5" fill="none" />
<rect x="887.8" y="21.7" width="652.6" height="403" fill="none" stroke="#000" stroke-width="2"/>
<text x="837.2" y="79.7" font-size="50" letter-spacing="-4.75">60</text>
<text x="837.5" y="195.6" font-size="50" letter-spacing="-4.62">40</text>
<text x="836.2" y="309.8" font-size="50" letter-spacing="-3.30">20</text>
<text x="857.7" y="423.5" font-size="50">0</text>
<text x="884.9" y="465.5" font-size="50">0</text>
<text x="1024.4" y="465.5" font-size="50" letter-spacing="-4.85">100</text>
<text x="1177.7" y="465.5" font-size="50" letter-spacing="-2.00">200</text>
<text x="1334.1" y="465.5" font-size="50" letter-spacing="-2.40">300</text>
<text x="1493.1" y="465.5" font-size="50" letter-spacing="-3.86">400</text>
<text transform="scale(1.07 1)"><tspan x="1089.1" y="533.5" font-size="47">t </tspan><tspan x="1116.5" y="537.2" font-size="53">[</tspan><tspan x="1133" y="533.5" font-size="47" letter-spacing="-2.89">ps</tspan><tspan x="1171.5" y="537.2" font-size="53">]</tspan></text>
<text x="924" y="82.3" font-size="53" letter-spacing="0.73">(b)</text>
<text transform="translate(835.2 242.6) rotate(-90)" font-size="54">N</text>
<rect x="1133.6" y="65.2" width="375.8" height="231.5" fill="#fff"/>
<line x1="1140.7" y1="75.3" x2="1501.3" y2="75.3" stroke="#222" stroke-width="1" />
<line x1="1140.7" y1="285.5" x2="1501.3" y2="285.5" stroke="#222" stroke-width="1" />
<path d="M1140.7,79.4L1141.9,79.3L1143.1,79.3L1144.3,79.2L1145.5,79.1L1146.7,79L1147.9,78.9L1149.1,78.8L1150.3,78.7L1151.6,78.5L1152.8,78.4L1154,78.2L1155.2,78L1156.4,77.8L1157.6,77.6L1158.8,77.4L1160,77.2L1161.2,77L1162.4,76.8L1163.6,76.6L1164.8,76.4L1166,76.2L1167.2,76L1168.4,75.8L1169.6,75.6L1170.9,75.4L1172.1,75.2L1173.3,75L1174.5,74.9L1175.7,74.7L1176.9,74.6L1178.1,74.4L1179.3,74.3L1180.5,74.2L1181.7,74.1L1182.9,74L1184.1,74L1185.3,73.9L1186.5,73.9L1187.7,73.8L1188.9,73.8L1190.1,73.8L1191.4,73.9L1192.6,73.9L1193.8,74L1195,74L1196.2,74.1L1197.4,74.2L1198.6,74.3L1199.8,74.5L1201,74.6L1202.2,74.7L1203.4,74.9L1204.6,75.1L1205.8,75.2L1207,75.4L1208.2,75.6L1209.4,75.8L1210.6,76L1211.9,76.2L1213.1,76.4L1214.3,76.6L1215.5,76.8L1216.7,77L1217.9,77.2L1219.1,77.4L1220.3,77.5L1221.5,77.7L1222.7,77.9L1223.9,78L1225.1,78.2L1226.3,78.3L1227.5,78.4L1228.7,78.6L1229.9,78.7L1231.2,78.7L1232.4,78.8L1233.6,78.9L1234.8,78.9L1236,78.9L1237.2,78.9L1238.4,78.9L1239.6,78.9L1240.8,78.9L1242,78.8L1243.2,78.8L1244.4,78.7L1245.6,78.6L1246.8,78.5L1248,78.3L1249.2,78.2L1250.4,78.1L1251.7,77.9L1252.9,77.7L1254.1,77.6L1255.3,77.4L1256.5,77.2L1257.7,77L1258.9,76.8L1260.1,76.6L1261.3,76.4L1262.5,76.2L1263.7,76L1264.9,75.7L1266.1,75.5L1267.3,75.3L1268.5,75.1L1269.7,74.9L1271,74.8L1272.2,74.6L1273.4,74.4L1274.6,74.3L1275.8,74.1L1277,74L1278.2,73.9L1279.4,73.7L1280.6,73.6L1281.8,73.6L1283,73.5L1284.2,73.4L1285.4,73.4L1286.6,73.4L1287.8,73.4L1289,73.4L1290.2,73.4L1291.5,73.5L1292.7,73.5L1293.9,73.6L1295.1,73.7L1296.3,73.8L1297.5,73.9L1298.7,74L1299.9,74.1L1301.1,74.3L1302.3,74.4L1303.5,74.6L1304.7,74.8L1305.9,75L1307.1,75.1L1308.3,75.3L1309.5,75.5L1310.7,75.7L1312,75.9L1313.2,76.1L1314.4,76.3L1315.6,76.5L1316.8,76.7L1318,76.9L1319.2,77.1L1320.4,77.2L1321.6,77.4L1322.8,77.6L1324,77.7L1325.2,77.9L1326.4,78L1327.6,78.1L1328.8,78.2L1330,78.3L1331.3,78.3L1332.5,78.4L1333.7,78.4L1334.9,78.5L1336.1,78.5L1337.3,78.5L1338.5,78.5L1339.7,78.4L1340.9,78.4L1342.1,78.3L1343.3,78.2L1344.5,78.1L1345.7,78L1346.9,77.9L1348.1,77.8L1349.3,77.6L1350.5,77.5L1351.8,77.3L1353,77.1L1354.2,76.9L1355.4,76.7L1356.6,76.5L1357.8,76.3L1359,76.1L1360.2,75.9L1361.4,75.7L1362.6,75.5L1363.8,75.3L1365,75.1L1366.2,74.9L1367.4,74.7L1368.6,74.5L1369.8,74.3L1371,74.1L1372.3,74L1373.5,73.8L1374.7,73.7L1375.9,73.5L1377.1,73.4L1378.3,73.3L1379.5,73.2L1380.7,73.1L1381.9,73L1383.1,73L1384.3,73L1385.5,72.9L1386.7,72.9L1387.9,72.9L1389.1,73L1390.3,73L1391.6,73L1392.8,73.1L1394,73.2L1395.2,73.3L1396.4,73.4L1397.6,73.5L1398.8,73.7L1400,73.8L1401.2,74L1402.4,74.1L1403.6,74.3L1404.8,74.5L1406,74.7L1407.2,74.9L1408.4,75.1L1409.6,75.3L1410.8,75.5L1412.1,75.6L1413.3,75.8L1414.5,76L1415.7,76.2L1416.9,76.4L1418.1,76.6L1419.3,76.8L1420.5,76.9L1421.7,77.1L1422.9,77.2L1424.1,77.4L1425.3,77.5L1426.5,77.6L1427.7,77.7L1428.9,77.8L1430.1,77.9L1431.4,77.9L1432.6,78L1433.8,78L1435,78L1436.2,78L1437.4,78L1438.6,78L1439.8,77.9L1441,77.9L1442.2,77.8L1443.4,77.7L1444.6,77.6L1445.8,77.5L1447,77.3L1448.2,77.2L1449.4,77L1450.6,76.9L1451.9,76.7L1453.1,76.5L1454.3,76.3L1455.5,76.1L1456.7,75.9L1457.9,75.7L1459.1,75.5L1460.3,75.3L1461.5,75.1L1462.7,74.9L1463.9,74.7L1465.1,74.5L1466.3,74.3L1467.5,74.1L1468.7,73.9L1469.9,73.7L1471.1,73.5L1472.4,73.4L1473.6,73.2L1474.8,73.1L1476,73L1477.2,72.8L1478.4,72.7L1479.6,72.7L1480.8,72.6L1482,72.5L1483.2,72.5L1484.4,72.5L1485.6,72.5L1486.8,72.5L1488,72.5L1489.2,72.5L1490.4,72.6L1491.7,72.7L1492.9,72.7L1494.1,72.8L1495.3,72.9L1496.5,73.1L1497.7,73.2L1498.9,73.3L1500.1,73.5L1501.3,73.7" fill="none" stroke="#b000d6" stroke-width="2.2" stroke-dasharray="15 6"/>
<path d="M1140.7,289.5L1141.9,289.4L1143.1,289.3L1144.3,289.1L1145.5,288.9L1146.7,288.8L1147.9,288.6L1149.1,288.4L1150.3,288.1L1151.6,287.9L1152.8,287.7L1154,287.4L1155.2,287.2L1156.4,286.9L1157.6,286.7L1158.8,286.4L1160,286.2L1161.2,285.9L1162.4,285.7L1163.6,285.4L1164.8,285.2L1166,285L1167.2,284.7L1168.4,284.5L1169.6,284.3L1170.9,284.1L1172.1,283.9L1173.3,283.8L1174.5,283.6L1175.7,283.5L1176.9,283.3L1178.1,283.2L1179.3,283.1L1180.5,283.1L1181.7,283L1182.9,283L1184.1,282.9L1185.3,282.9L1186.5,282.9L1187.7,283L1188.9,283L1190.1,283.1L1191.4,283.2L1192.6,283.2L1193.8,283.4L1195,283.5L1196.2,283.6L1197.4,283.8L1198.6,283.9L1199.8,284.1L1201,284.3L1202.2,284.4L1203.4,284.6L1204.6,284.8L1205.8,285L1207,285.2L1208.2,285.4L1209.4,285.6L1210.6,285.9L1211.9,286.1L1213.1,286.2L1214.3,286.4L1215.5,286.6L1216.7,286.8L1217.9,287L1219.1,287.1L1220.3,287.3L1221.5,287.4L1222.7,287.5L1223.9,287.6L1225.1,287.7L1226.3,287.8L1227.5,287.9L1228.7,287.9L1229.9,287.9L1231.2,288L1232.4,287.9L1233.6,287.9L1234.8,287.9L1236,287.8L1237.2,287.7L1238.4,287.7L1239.6,287.5L1240.8,287.4L1242,287.3L1243.2,287.1L1244.4,286.9L1245.6,286.8L1246.8,286.6L1248,286.4L1249.2,286.1L1250.4,285.9L1251.7,285.7L1252.9,285.4L1254.1,285.2L1255.3,284.9L1256.5,284.7L1257.7,284.4L1258.9,284.2L1260.1,283.9L1261.3,283.7L1262.5,283.4L1263.7,283.2L1264.9,283L1266.1,282.7L1267.3,282.5L1268.5,282.3L1269.7,282.1L1271,281.9L1272.2,281.8L1273.4,281.6L1274.6,281.5L1275.8,281.3L1277,281.2L1278.2,281.1L1279.4,281.1L1280.6,281L1281.8,280.9L1283,280.9L1284.2,280.9L1285.4,280.9L1286.6,281L1287.8,281L1289,281.1L1290.2,281.1L1291.5,281.2L1292.7,281.3L1293.9,281.5L1295.1,281.6L1296.3,281.7L1297.5,281.9L1298.7,282.1L1299.9,282.2L1301.1,282.4L1302.3,282.6L1303.5,282.8L1304.7,283L1305.9,283.2L1307.1,283.4L1308.3,283.6L1309.5,283.8L1310.7,284L1312,284.2L1313.2,284.4L1314.4,284.6L1315.6,284.8L1316.8,284.9L1318,285.1L1319.2,285.3L1320.4,285.4L1321.6,285.5L1322.8,285.6L1324,285.7L1325.2,285.8L1326.4,285.9L1327.6,285.9L1328.8,285.9L1330,285.9L1331.3,285.9L1332.5,285.9L1333.7,285.9L1334.9,285.8L1336.1,285.7L1337.3,285.6L1338.5,285.5L1339.7,285.4L1340.9,285.3L1342.1,285.1L1343.3,284.9L1344.5,284.8L1345.7,284.6L1346.9,284.4L1348.1,284.1L1349.3,283.9L1350.5,283.7L1351.8,283.4L1353,283.2L1354.2,283L1355.4,282.7L1356.6,282.4L1357.8,282.2L1359,281.9L1360.2,281.7L1361.4,281.4L1362.6,281.2L1363.8,281L1365,280.7L1366.2,280.5L1367.4,280.3L1368.6,280.1L1369.8,279.9L1371,279.8L1372.3,279.6L1373.5,279.5L1374.7,279.3L1375.9,279.2L1377.1,279.1L1378.3,279L1379.5,279L1380.7,278.9L1381.9,278.9L1383.1,278.9L1384.3,278.9L1385.5,278.9L1386.7,279L1387.9,279L1389.1,279.1L1390.3,279.2L1391.6,279.3L1392.8,279.4L1394,279.6L1395.2,279.7L1396.4,279.9L1397.6,280L1398.8,280.2L1400,280.4L1401.2,280.6L1402.4,280.8L1403.6,281L1404.8,281.2L1406,281.4L1407.2,281.6L1408.4,281.8L1409.6,282L1410.8,282.2L1412.1,282.4L1413.3,282.6L1414.5,282.8L1415.7,282.9L1416.9,283.1L1418.1,283.2L1419.3,283.4L1420.5,283.5L1421.7,283.6L1422.9,283.7L1424.1,283.8L1425.3,283.8L1426.5,283.9L1427.7,283.9L1428.9,283.9L1430.1,283.9L1431.4,283.9L1432.6,283.9L1433.8,283.8L1435,283.7L1436.2,283.6L1437.4,283.5L1438.6,283.4L1439.8,283.3L1441,283.1L1442.2,282.9L1443.4,282.8L1444.6,282.6L1445.8,282.4L1447,282.2L1448.2,281.9L1449.4,281.7L1450.6,281.5L1451.9,281.2L1453.1,281L1454.3,280.7L1455.5,280.5L1456.7,280.2L1457.9,279.9L1459.1,279.7L1460.3,279.5L1461.5,279.2L1462.7,279L1463.9,278.7L1465.1,278.5L1466.3,278.3L1467.5,278.1L1468.7,277.9L1469.9,277.8L1471.1,277.6L1472.4,277.5L1473.6,277.3L1474.8,277.2L1476,277.1L1477.2,277L1478.4,277L1479.6,276.9L1480.8,276.9L1482,276.9L1483.2,276.9L1484.4,276.9L1485.6,277L1486.8,277L1488,277.1L1489.2,277.2L1490.4,277.3L1491.7,277.4L1492.9,277.5L1494.1,277.7L1495.3,277.8L1496.5,278L1497.7,278.2L1498.9,278.4L1500.1,278.6L1501.3,278.8" fill="none" stroke="#ff7f0e" stroke-width="1.7"/>
<path d="M1140.7,296.7L1140.7,291.2M1140.7,65.2L1140.7,70.7M1200.8,296.7L1200.8,292.7M1200.8,65.2L1200.8,69.2M1260.9,296.7L1260.9,291.2M1260.9,65.2L1260.9,70.7M1321,296.7L1321,292.7M1321,65.2L1321,69.2M1381.1,296.7L1381.1,291.2M1381.1,65.2L1381.1,70.7M1441.2,296.7L1441.2,292.7M1441.2,65.2L1441.2,69.2M1501.3,296.7L1501.3,291.2M1501.3,65.2L1501.3,70.7M1133.6,264.1L1139.1,264.1M1502.4,264.1L1508.9,264.1M1133.6,208.6L1139.1,208.6M1502.4,208.6L1508.9,208.6M1133.6,153.1L1139.1,153.1M1502.4,153.1L1508.9,153.1M1133.6,97.5L1139.1,97.5M1502.4,97.5L1508.9,97.5" stroke="#000" stroke-width="1.5" fill="none" />
<path d="M1509.4,65.2L1133.6,65.2L1133.6,296.7L1509.4,296.7M1502.4,65.2L1502.4,296.7" fill="none" stroke="#000" stroke-width="2"/>
<text x="1084.7" y="106.2" font-size="34" letter-spacing="-0.23">7.0</text>
<text x="1085.4" y="160.6" font-size="34" letter-spacing="-1.01">6.5</text>
<text x="1085.4" y="217.3" font-size="34" letter-spacing="-0.62">6.0</text>
<text x="1085.8" y="270.8" font-size="34" letter-spacing="-1.15">5.5</text>
<text x="1103.8" y="327.7" font-size="33" letter-spacing="-1.33">300</text>
<text x="1232.3" y="327.7" font-size="33" letter-spacing="-2.07">301</text>
<text x="1352.7" y="327.7" font-size="33" letter-spacing="-1.30">302</text>
<text x="1474.7" y="327.7" font-size="33" letter-spacing="-2.97">303</text>
<text transform="scale(1.07 1)"><tspan x="1197.4" y="351.1" font-size="32">t </tspan><tspan x="1211.6" y="352.8" font-size="35">[</tspan><tspan x="1220.7" y="351.1" font-size="32" letter-spacing="-1.08">ps</tspan><tspan x="1250.2" y="352.8" font-size="35">]</tspan></text>
</g>
<g id="panel-c">
<path d="M1796.9,423.5L1796.9,419.5M1796.9,23.4L1796.9,27.4M1930.7,423.5L1930.7,419.5M1930.7,23.4L1930.7,27.4M1663,356.8L1667,356.8M2064.6,356.8L2060.6,356.8M1663,290.1L1667,290.1M2064.6,290.1L2060.6,290.1M1663,223.4L1667,223.4M2064.6,223.4L2060.6,223.4M1663,156.7L1667,156.7M2064.6,156.7L2060.6,156.7M1663,90L1667,90M2064.6,90L2060.6,90" stroke="#000" stroke-width="1.7" fill="none" />
<path d="M1692.2,423.5L1692.2,414.5M1692.2,23.4L1692.2,32.6M1883.2,423.5L1883.2,414.5M1883.2,23.4L1883.2,32.6" stroke="#000" stroke-width="2.2" fill="none" />
<rect x="1663" y="23.4" width="401.6" height="400.1" fill="none" stroke="#000" stroke-width="2.1"/>
<path d="M1661.5,423.5L1882.6,423.5L1883.4,243.2L2065.3,74.8" fill="none" stroke="#ff7f0e" stroke-width="3.4" stroke-linejoin="round"/>
<path d="M1691.7,423.8L2064.2,87.6" fill="none" stroke="#b000d6" stroke-width="3.3" stroke-linecap="round" stroke-dasharray="16.8 12.3" stroke-dashoffset="-1"/>
<text x="1629" y="33.4" font-size="50">6</text>
<text x="1629.5" y="100" font-size="50">5</text>
<text x="1629" y="166.9" font-size="50">4</text>
<text x="1629.1" y="234" font-size="50">3</text>
<text x="1628.1" y="300.2" font-size="50">2</text>
<text x="1630.5" y="368" font-size="50">1</text>
<text x="1629.2" y="428.2" font-size="50">0</text>
<text x="1647.5" y="464.8" font-size="50">0</text>
<text x="1773.8" y="465.2" font-size="50" letter-spacing="-2.05">0.1</text>
<text x="1908.3" y="465.2" font-size="50" letter-spacing="-0.02">0.2</text>
<text x="2042.6" y="465.2" font-size="50" letter-spacing="-0.57">0.3</text>
<text><tspan x="1680.3" y="469.5" font-size="52" font-style="italic">P</tspan><tspan x="1706.3" y="481.1" font-size="27">1</tspan><tspan x="1714.1" y="449" font-size="30" font-style="italic" letter-spacing="-0.67">th</tspan></text>
<text><tspan x="1847.3" y="469.5" font-size="52" font-style="italic">P</tspan><tspan x="1873.5" y="481.2" font-size="27">2</tspan><tspan x="1881.1" y="448.6" font-size="30" font-style="italic" letter-spacing="-0.07">th</tspan></text>
<text transform="scale(1.07 1)"><tspan x="1612.3" y="537" font-size="52">P </tspan><tspan x="1654.6" y="541.5" font-size="62">[</tspan><tspan x="1671.5" y="537" font-size="52" letter-spacing="0.60">μm</tspan><tspan x="1736.9" y="515.7" font-size="44" letter-spacing="-1.26">−2</tspan><tspan x="1784.7" y="537" font-size="52" letter-spacing="-1.00">ps</tspan><tspan x="1820.3" y="513.6" font-size="42" letter-spacing="-4.00">−1</tspan><tspan x="1865.3" y="541.5" font-size="62">]</tspan></text>
<text x="1690.7" y="85" font-size="53" letter-spacing="1.37">(c)</text>
<text transform="rotate(-90)"><tspan x="-246.1" y="1612" font-size="53" fill="#333">|</tspan><tspan x="-233.9" y="1616.7" font-size="50" font-style="italic">A</tspan><tspan x="-205.3" y="1612" font-size="53" fill="#333">|</tspan><tspan x="-193.3" y="1582.4" font-size="30">2</tspan></text>
<rect x="1711.2" y="122.2" width="137.4" height="76.3" fill="#fff" stroke="#000" stroke-width="2"/>
<line x1="1725.6" y1="139" x2="1792.6" y2="139" stroke="#ff7f0e" stroke-width="2" />
<line x1="1725.8" y1="181.6" x2="1786.4" y2="181.6" stroke="#ff3cff" stroke-width="2.2" stroke-dasharray="16.4 5.6"/>
<text><tspan x="1807.1" y="146.9" font-size="32" font-style="italic">p</tspan><tspan x="1823.9" y="157.2" font-size="19" font-style="italic">2</tspan></text>
<text><tspan x="1807.1" y="182.9" font-size="32" font-style="italic">p</tspan><tspan x="1824.3" y="192.7" font-size="19" font-style="italic">1</tspan></text>
</g>
</svg>
</body>
</html>
